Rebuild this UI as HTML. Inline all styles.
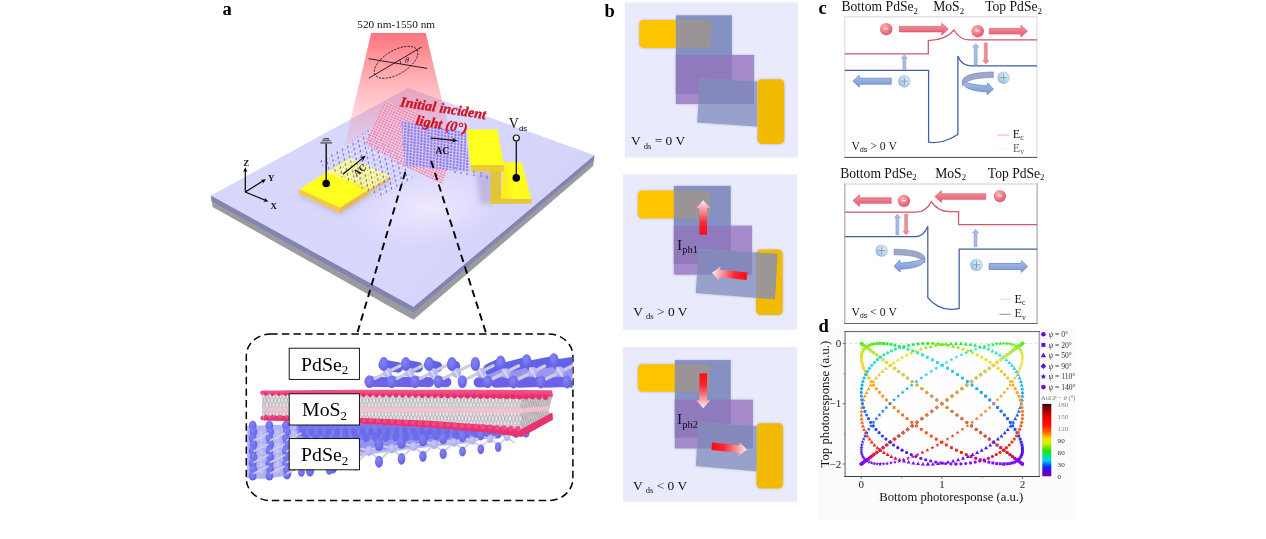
<!DOCTYPE html>
<html><head><meta charset="utf-8"><title>Figure</title>
<style>
html,body{margin:0;padding:0;background:#fff;}
body{width:1266px;height:539px;overflow:hidden;position:relative;font-family:"Liberation Serif",serif;}
text{font-family:"Liberation Serif",serif;}
</style></head>
<body>
<svg width="1266" height="539" viewBox="0 0 1266 539" style="position:absolute;left:0;top:0;display:block;will-change:transform" font-family="Liberation Serif, serif">
<defs>
<linearGradient id="slabg" gradientUnits="userSpaceOnUse" x1="300" y1="120" x2="520" y2="280">
<stop offset="0" stop-color="#d7d7fb"/><stop offset="0.5" stop-color="#d9d7fd"/><stop offset="1" stop-color="#d3d3fb"/></linearGradient>
<radialGradient id="glow" gradientUnits="userSpaceOnUse" cx="0" cy="0" r="1" gradientTransform="translate(428 208) rotate(-8) scale(75 38)">
<stop offset="0" stop-color="#f1e9ff" stop-opacity="0.95"/><stop offset="0.5" stop-color="#ece4ff" stop-opacity="0.6"/><stop offset="1" stop-color="#e8e0ff" stop-opacity="0"/></radialGradient>
<linearGradient id="beam" gradientUnits="userSpaceOnUse" x1="0" y1="33" x2="0" y2="152">
<stop offset="0" stop-color="#ff4452" stop-opacity="0.74"/><stop offset="0.1" stop-color="#ff4452" stop-opacity="0.66"/><stop offset="0.4" stop-color="#ff525e" stop-opacity="0.44"/><stop offset="0.62" stop-color="#ff5e6a" stop-opacity="0.31"/><stop offset="0.85" stop-color="#ff6a78" stop-opacity="0.16"/><stop offset="1" stop-color="#ff8088" stop-opacity="0"/></linearGradient>
<filter id="ablur" x="-20%" y="-20%" width="140%" height="140%"><feGaussianBlur stdDeviation="0.5"/></filter>
<filter id="ablur2" x="-20%" y="-20%" width="140%" height="140%"><feGaussianBlur stdDeviation="2.5"/></filter>
<linearGradient id="yel2" gradientUnits="userSpaceOnUse" x1="500" y1="0" x2="530" y2="0"><stop offset="0" stop-color="#ffe61e"/><stop offset="0.5" stop-color="#ffff1e"/><stop offset="1" stop-color="#fff81e"/></linearGradient>
<pattern id="lat1" width="6" height="5" patternUnits="userSpaceOnUse" patternTransform="matrix(0.88 -0.48 0.2 0.98 320 160)"><rect x="0.5" y="0.5" width="1.3" height="2.8" fill="#6f6fe6"/><rect x="3.6" y="2.6" width="1.1" height="1.6" fill="#a9a9f2"/></pattern>
<pattern id="lat2" width="3" height="2.6" patternUnits="userSpaceOnUse" patternTransform="matrix(0.9 0.42 -0.42 0.9 385 101)"><rect x="0" y="0" width="3" height="2.6" fill="#f6d2e4" fill-opacity="0.6"/><rect x="0.3" y="0.4" width="1.6" height="1.3" fill="#ee5884"/></pattern>
<pattern id="lat3" width="3.4" height="3" patternUnits="userSpaceOnUse" patternTransform="matrix(0.98 0.17 -0.05 1 401 121)"><rect x="0" y="0" width="3.4" height="3" fill="#d4ccf8" fill-opacity="0.78"/><rect x="0.3" y="0.2" width="1.9" height="2.1" fill="#7b70ea"/></pattern>
<clipPath id="rightof"><rect x="296" y="420" width="300" height="80"/></clipPath>
<clipPath id="insc"><rect x="247" y="335" width="325.6" height="165" rx="23" ry="21"/></clipPath>
<pattern id="hatch" width="3.4" height="9" patternUnits="userSpaceOnUse"><rect width="3.4" height="9" fill="#e9e6ea"/><path d="M0,0 L3.4,9 M3.4,0 L0,9" stroke="#a8a4ac" stroke-width="0.75"/></pattern>
<pattern id="hatch2" width="2.2" height="9" patternUnits="userSpaceOnUse" patternTransform="matrix(1 -0.45 0 1 0 0)"><rect width="2.2" height="9" fill="#c9c5c9"/><path d="M0,0 L2.2,9" stroke="#98949c" stroke-width="0.7"/></pattern>
<radialGradient id="se" cx="0.4" cy="0.35" r="0.75"><stop offset="0" stop-color="#8484f6"/><stop offset="1" stop-color="#5e5ee4"/></radialGradient>
<radialGradient id="pd" cx="0.4" cy="0.35" r="0.75"><stop offset="0" stop-color="#cacafc"/><stop offset="1" stop-color="#a6a6f2"/></radialGradient>
<linearGradient id="pinkb" x1="0" y1="0" x2="0" y2="1"><stop offset="0" stop-color="#f4558e"/><stop offset="1" stop-color="#e82f6c"/></linearGradient>
<filter id="soft" x="-10%" y="-10%" width="120%" height="120%"><feGaussianBlur in="SourceAlpha" stdDeviation="1.2" result="sh"/><feFlood flood-color="#50506a" flood-opacity="0.38"/><feComposite in2="sh" operator="in" result="shc"/><feGaussianBlur in="SourceGraphic" stdDeviation="0.5" result="g"/><feMerge><feMergeNode in="shc"/><feMergeNode in="g"/></feMerge></filter>
<filter id="soft2" x="-10%" y="-10%" width="120%" height="120%"><feGaussianBlur stdDeviation="0.4"/></filter>
<clipPath id="bbc0"><polygon points="700,78.2 757.1,81.6 757.1,126.5 697.3,122.4"/></clipPath>
<clipPath id="bbc1"><polygon points="698.6,248.8 777.5,253.9 774.9,299.2 695.9,293.1"/></clipPath>
<linearGradient id="ag10" gradientUnits="userSpaceOnUse" x1="703.2" y1="234.5" x2="703.2" y2="200.2"><stop offset="0" stop-color="#ff0a10"/><stop offset="0.35" stop-color="#fb2a34"/><stop offset="0.8" stop-color="#f8b0b8"/><stop offset="1" stop-color="#fdeef0"/></linearGradient>
<linearGradient id="ag11" gradientUnits="userSpaceOnUse" x1="747" y1="276.3" x2="711.8" y2="272.7"><stop offset="0" stop-color="#ff0a10"/><stop offset="0.35" stop-color="#fb2a34"/><stop offset="0.8" stop-color="#f8b0b8"/><stop offset="1" stop-color="#fdeef0"/></linearGradient>
<clipPath id="bbc2"><polygon points="698.6,422.2 756.7,426.3 756.7,471.2 695.9,466.1"/></clipPath>
<linearGradient id="ag20" gradientUnits="userSpaceOnUse" x1="703.2" y1="373.5" x2="703.2" y2="408.2"><stop offset="0" stop-color="#ff0a10"/><stop offset="0.35" stop-color="#fb2a34"/><stop offset="0.8" stop-color="#f8b0b8"/><stop offset="1" stop-color="#fdeef0"/></linearGradient>
<linearGradient id="ag21" gradientUnits="userSpaceOnUse" x1="711.8" y1="446.3" x2="747" y2="449.8"><stop offset="0" stop-color="#ff0a10"/><stop offset="0.35" stop-color="#fb2a34"/><stop offset="0.8" stop-color="#f8b0b8"/><stop offset="1" stop-color="#fdeef0"/></linearGradient>
<radialGradient id="eball" cx="0.38" cy="0.32" r="0.75"><stop offset="0" stop-color="#f9b2b4"/><stop offset="0.5" stop-color="#ef7f88"/><stop offset="1" stop-color="#d9506a"/></radialGradient>
<radialGradient id="hball" cx="0.6" cy="0.4" r="0.75"><stop offset="0" stop-color="#e2f2fb"/><stop offset="0.55" stop-color="#b4d4ee"/><stop offset="1" stop-color="#7e9ccc"/></radialGradient>
<linearGradient id="rarr" x1="0" y1="0" x2="0" y2="1"><stop offset="0" stop-color="#f4a0a6"/><stop offset="0.5" stop-color="#ec7684"/><stop offset="1" stop-color="#e25a70"/></linearGradient>
<linearGradient id="barr" x1="0" y1="0" x2="0" y2="1"><stop offset="0" stop-color="#b4c4ea"/><stop offset="0.5" stop-color="#92aade"/><stop offset="1" stop-color="#7e98d6"/></linearGradient>
<filter id="cblur" x="-20%" y="-20%" width="140%" height="140%"><feGaussianBlur stdDeviation="0.35"/></filter>
<filter id="dblur" x="-5%" y="-5%" width="110%" height="110%"><feGaussianBlur stdDeviation="0.45"/></filter>
<linearGradient id="cbar" x1="0" y1="0" x2="0" y2="1"><stop offset="0" stop-color="#3a0000"/><stop offset="0.06" stop-color="#800000"/><stop offset="0.17" stop-color="#e00000"/><stop offset="0.3" stop-color="#ff1000"/><stop offset="0.4" stop-color="#ff7000"/><stop offset="0.48" stop-color="#ffd800"/><stop offset="0.54" stop-color="#d8f000"/><stop offset="0.64" stop-color="#30e000"/><stop offset="0.72" stop-color="#00e090"/><stop offset="0.78" stop-color="#00d0f0"/><stop offset="0.86" stop-color="#0040f0"/><stop offset="0.93" stop-color="#5000e0"/><stop offset="1" stop-color="#800090"/></linearGradient>
</defs>
<g id="pa">
<polygon points="211.0,195.6 413.5,306.8 594.4,155.3 593.2,166.1 413.5,319.8 212.6,207.1" fill="#9b9b9f"/>
<polygon points="211.0,195.6 413.5,306.8 594.4,155.3 594.0,160.3 413.5,312.6 211.6,201.2" fill="#8484b2"/>
<polygon points="211.0,195.6 408.0,88.0 594.4,155.3 413.5,306.8" fill="url(#slabg)"/>
<polygon points="211.0,195.6 408.0,88.0 594.4,155.3 413.5,306.8" fill="url(#glow)"/>
<polygon points="371.2,33.1 425.7,33.1 454.6,152 343,152" fill="url(#beam)"/>
<polygon points="298.5,191.2 340.0,207.5 392.0,176.0 392.0,182.0 340.0,215.5 298.5,196.2" fill="#b0a0c0" fill-opacity="0.5" filter="url(#ablur2)"/>
<polygon points="299.5,189.2 340.0,207.5 340.0,212.9 299.5,193.8" fill="#f0c93e"/>
<polygon points="340.0,207.5 390.0,176.0 390.0,180.0 340.0,212.9" fill="#e9b94e"/>
<polygon points="299.5,189.2 349.5,157.7 390.0,176.0 340.0,207.5" fill="#ffff1e"/>
<polygon points="476,172 492,170 494,204 480,204" fill="#a898c8" fill-opacity="0.5" filter="url(#ablur2)"/>
<polygon points="490.4,170 501,170 501,203.7 490.4,203.7" fill="#e3c23c"/>
<polygon points="490.4,198.6 531.4,198.6 531.4,203.7 490.4,203.7" fill="#e6c63a"/>
<polygon points="503.5,162.2 521.5,162.2 531.4,198.8 501,198.8" fill="url(#yel2)"/>
<polygon points="470.5,164.7 503.9,164.7 503.9,171.6 471.6,171.6" fill="#e9cb36"/>
<polygon points="466.8,129.5 497.4,129.5 503.9,164.9 470.5,164.9" fill="#ffff1e"/>
<g filter="url(#ablur)"><polygon points="316.7,162.4 371.3,127.9 395.0,150.0 413.0,178.0 380.0,199.0" fill="#ffffff" fill-opacity="0.16"/><polygon points="326.0,173.0 349.5,157.7 390.0,176.0 372.0,187.5" fill="#fffff0" fill-opacity="0.45"/><polygon points="316.7,162.4 371.3,127.9 395.0,150.0 413.0,178.0 380.0,199.0" fill="url(#lat1)"/></g>
<g filter="url(#ablur)"><polygon points="385.5,100.5 418.0,112.0 452.0,140.0 448.0,168.0 442.5,184.0 403.0,166.0 364.6,143.5" fill="url(#lat2)"/></g>
<g filter="url(#ablur)"><polygon points="401.3,121.0 466.0,131.5 469.5,172.0 404.7,165.7" fill="url(#lat3)"/></g>
<g fill="#8a84ee" filter="url(#ablur)"><circle cx="455" cy="172" r="1"/><circle cx="461" cy="173" r="1"/><circle cx="467" cy="174" r="1"/><circle cx="474" cy="175" r="1"/><circle cx="481" cy="176" r="1"/><circle cx="487" cy="176.5" r="1"/><circle cx="474" cy="172" r="1"/><circle cx="481" cy="173" r="1"/><circle cx="487" cy="178" r="1"/><circle cx="455" cy="168" r="1"/></g>
<line x1="326.2" y1="143" x2="326.2" y2="183" stroke="#1a1a1a" stroke-width="1.5"/>
<circle cx="326.2" cy="183.5" r="3.8" fill="#000"/>
<rect x="320.3" y="141.8" width="11.8" height="2" fill="#77777f"/><rect x="322" y="139.6" width="8.4" height="1.6" fill="#6a6a72"/><rect x="323.4" y="138" width="5.6" height="1.2" fill="#55555c"/>
<line x1="516.3" y1="141" x2="516.3" y2="178" stroke="#111" stroke-width="1.3"/>
<circle cx="516.3" cy="138" r="3" fill="#f4f4ff" stroke="#111" stroke-width="1.2"/>
<circle cx="516.3" cy="177.9" r="3.8" fill="#000"/>
<text x="508.8" y="128.4" font-size="14" fill="#111">V<tspan font-size="8" dy="2.8" font-family="Liberation Sans, sans-serif">ds</tspan></text>
<line x1="342.9" y1="174.2" x2="362.7" y2="158.1" stroke="#000" stroke-width="1.2"/><polygon points="365.7,155.7 362.9,161.0 362.7,158.1 359.9,157.3" fill="#000"/>
<text x="0" y="0" font-size="9.6" font-weight="bold" fill="#111" transform="translate(356.5,177) rotate(-40)">AC</text>
<line x1="430.6" y1="138.0" x2="453.7" y2="140.4" stroke="#000" stroke-width="1.2"/><polygon points="457.5,140.8 451.8,142.6 453.7,140.4 452.3,137.8" fill="#000"/>
<text x="435.2" y="153.8" font-size="9.8" font-weight="bold" fill="#111">AC</text>
<line x1="245.3" y1="192.0" x2="245.3" y2="170.8" stroke="#000" stroke-width="1.2"/><polygon points="245.3,167.3 247.5,172.3 245.3,170.8 243.1,172.3" fill="#000"/>
<line x1="245.3" y1="192.0" x2="262.9" y2="181.0" stroke="#000" stroke-width="1.2"/><polygon points="265.9,179.2 262.8,183.7 262.9,181.0 260.5,180.0" fill="#000"/>
<line x1="245.3" y1="192.0" x2="265.3" y2="200.3" stroke="#000" stroke-width="1.2"/><polygon points="268.5,201.6 263.0,201.7 265.3,200.3 264.7,197.7" fill="#000"/>
<text x="243.3" y="165.9" font-size="9" font-weight="bold" fill="#111">Z</text>
<text x="268" y="181.2" font-size="8.8" font-weight="bold" fill="#111">Y</text>
<text x="270.6" y="208.6" font-size="8.8" font-weight="bold" fill="#111">X</text>
<text x="357.3" y="27.5" font-size="11.3" fill="#111">520 nm-1550 nm</text>
<ellipse cx="396.1" cy="62.3" rx="24.3" ry="11.8" transform="rotate(-30.6 396.1 62.3)" fill="none" stroke="#1a1014" stroke-width="0.8" stroke-dasharray="2.2 1.2"/>
<line x1="368.6" y1="58.7" x2="427.3" y2="68.4" stroke="#1a1014" stroke-width="0.9"/>
<line x1="368.8" y1="78.2" x2="421.6" y2="47" stroke="#1a1014" stroke-width="0.9"/>
<text x="405" y="63.4" font-size="8" font-style="italic" fill="#1a1014">θ</text>
<path d="M400.6,64 a5,5 0 0 0 -1.2,-4.2" fill="none" stroke="#1a1014" stroke-width="0.7"/>
<text font-size="14.1" font-weight="bold" font-style="italic" fill="#d40f1b" stroke="#d40f1b" stroke-width="0.3" transform="translate(399.8,106.2) rotate(8.7)">Initial incident</text>
<text font-size="14.1" font-weight="bold" font-style="italic" fill="#d40f1b" stroke="#d40f1b" stroke-width="0.3" transform="translate(415.2,124.6) rotate(9.4)">light (0°)</text>
<line x1="405.3" y1="172" x2="357.6" y2="332" stroke="#000" stroke-width="1.9" stroke-dasharray="7.5 4.8"/>
<line x1="431.2" y1="161" x2="486" y2="333" stroke="#000" stroke-width="1.9" stroke-dasharray="7.5 4.8"/>
<rect x="246.3" y="334.1" width="326.6" height="166.4" rx="24" ry="22" fill="none" stroke="#000" stroke-width="1.5" stroke-dasharray="7.4 4.2"/>
<g clip-path="url(#insc)" filter="url(#ablur)"><polygon points="296,424 535,424 531,432 500,436 460,440 420,446 379,450 360,452 310,468 296,470" fill="#7c7cee"/>
<polygon points="247,440 300,436 360,440 420,440 470,436 500,434 470,443 420,448 379,453 340,460 300,468 247,476" fill="#9c9cf2" fill-opacity="0.7" clip-path="url(#rightof)"/>
<ellipse cx="300.0" cy="427.9" rx="2.4" ry="3.2" fill="#7474ec"/>
<ellipse cx="306.5" cy="427.9" rx="2.4" ry="3.2" fill="#7474ec"/>
<ellipse cx="313.0" cy="427.8" rx="2.4" ry="3.2" fill="#7474ec"/>
<ellipse cx="319.5" cy="427.8" rx="2.4" ry="3.2" fill="#7474ec"/>
<ellipse cx="326.0" cy="427.8" rx="2.4" ry="3.2" fill="#7474ec"/>
<ellipse cx="332.5" cy="427.8" rx="2.4" ry="3.2" fill="#7474ec"/>
<ellipse cx="339.0" cy="427.7" rx="2.4" ry="3.2" fill="#7474ec"/>
<ellipse cx="345.5" cy="427.7" rx="2.4" ry="3.2" fill="#7474ec"/>
<ellipse cx="352.0" cy="427.7" rx="2.4" ry="3.2" fill="#7474ec"/>
<ellipse cx="358.5" cy="427.7" rx="2.4" ry="3.2" fill="#7474ec"/>
<ellipse cx="365.0" cy="427.6" rx="2.4" ry="3.2" fill="#7474ec"/>
<ellipse cx="371.5" cy="427.6" rx="2.4" ry="3.2" fill="#7474ec"/>
<ellipse cx="378.0" cy="427.6" rx="2.4" ry="3.2" fill="#7474ec"/>
<ellipse cx="384.5" cy="427.6" rx="2.4" ry="3.2" fill="#7474ec"/>
<ellipse cx="391.0" cy="427.5" rx="2.4" ry="3.2" fill="#7474ec"/>
<ellipse cx="397.5" cy="427.5" rx="2.4" ry="3.2" fill="#7474ec"/>
<ellipse cx="404.0" cy="427.5" rx="2.4" ry="3.2" fill="#7474ec"/>
<ellipse cx="410.5" cy="427.5" rx="2.4" ry="3.2" fill="#7474ec"/>
<ellipse cx="417.0" cy="427.4" rx="2.4" ry="3.2" fill="#7474ec"/>
<ellipse cx="423.5" cy="427.4" rx="2.4" ry="3.2" fill="#7474ec"/>
<ellipse cx="430.0" cy="427.4" rx="2.4" ry="3.2" fill="#7474ec"/>
<ellipse cx="436.5" cy="427.4" rx="2.4" ry="3.2" fill="#7474ec"/>
<ellipse cx="443.0" cy="427.3" rx="2.4" ry="3.2" fill="#7474ec"/>
<ellipse cx="449.5" cy="427.3" rx="2.4" ry="3.2" fill="#7474ec"/>
<ellipse cx="456.0" cy="427.3" rx="2.4" ry="3.2" fill="#7474ec"/>
<ellipse cx="462.5" cy="427.2" rx="2.4" ry="3.2" fill="#7474ec"/>
<ellipse cx="469.0" cy="427.2" rx="2.4" ry="3.2" fill="#7474ec"/>
<ellipse cx="475.5" cy="427.2" rx="2.4" ry="3.2" fill="#7474ec"/>
<ellipse cx="482.0" cy="427.2" rx="2.4" ry="3.2" fill="#7474ec"/>
<ellipse cx="488.5" cy="427.1" rx="2.4" ry="3.2" fill="#7474ec"/>
<ellipse cx="495.0" cy="427.1" rx="2.4" ry="3.2" fill="#7474ec"/>
<ellipse cx="501.5" cy="427.1" rx="2.4" ry="3.2" fill="#7474ec"/>
<ellipse cx="508.0" cy="427.1" rx="2.4" ry="3.2" fill="#7474ec"/>
<ellipse cx="514.5" cy="427.0" rx="2.4" ry="3.2" fill="#7474ec"/>
<ellipse cx="521.0" cy="427.0" rx="2.4" ry="3.2" fill="#7474ec"/>
<ellipse cx="527.5" cy="427.0" rx="2.4" ry="3.2" fill="#7474ec"/>
<ellipse cx="534.0" cy="427.0" rx="2.4" ry="3.2" fill="#7474ec"/>
<ellipse cx="303.0" cy="432.3" rx="2.7" ry="3.7" fill="#6a6ae8"/>
<ellipse cx="311.5" cy="432.2" rx="2.7" ry="3.7" fill="#6a6ae8"/>
<ellipse cx="320.0" cy="432.1" rx="2.7" ry="3.7" fill="#6a6ae8"/>
<ellipse cx="328.5" cy="432.1" rx="2.7" ry="3.7" fill="#6a6ae8"/>
<ellipse cx="337.0" cy="432.0" rx="2.7" ry="3.7" fill="#6a6ae8"/>
<ellipse cx="345.5" cy="431.9" rx="2.7" ry="3.7" fill="#6a6ae8"/>
<ellipse cx="354.0" cy="431.9" rx="2.7" ry="3.7" fill="#6a6ae8"/>
<ellipse cx="362.5" cy="431.8" rx="2.7" ry="3.7" fill="#6a6ae8"/>
<ellipse cx="371.0" cy="431.7" rx="2.7" ry="3.7" fill="#6a6ae8"/>
<ellipse cx="379.5" cy="431.7" rx="2.7" ry="3.7" fill="#6a6ae8"/>
<ellipse cx="388.0" cy="431.6" rx="2.7" ry="3.7" fill="#6a6ae8"/>
<ellipse cx="396.5" cy="431.5" rx="2.7" ry="3.7" fill="#6a6ae8"/>
<ellipse cx="405.0" cy="431.5" rx="2.7" ry="3.7" fill="#6a6ae8"/>
<ellipse cx="413.5" cy="431.4" rx="2.7" ry="3.7" fill="#6a6ae8"/>
<ellipse cx="422.0" cy="431.3" rx="2.7" ry="3.7" fill="#6a6ae8"/>
<ellipse cx="430.5" cy="431.3" rx="2.7" ry="3.7" fill="#6a6ae8"/>
<ellipse cx="439.0" cy="431.2" rx="2.7" ry="3.7" fill="#6a6ae8"/>
<ellipse cx="447.5" cy="431.1" rx="2.7" ry="3.7" fill="#6a6ae8"/>
<ellipse cx="456.0" cy="431.1" rx="2.7" ry="3.7" fill="#6a6ae8"/>
<ellipse cx="464.5" cy="431.0" rx="2.7" ry="3.7" fill="#6a6ae8"/>
<ellipse cx="473.0" cy="430.9" rx="2.7" ry="3.7" fill="#6a6ae8"/>
<ellipse cx="481.5" cy="430.8" rx="2.7" ry="3.7" fill="#6a6ae8"/>
<ellipse cx="490.0" cy="430.8" rx="2.7" ry="3.7" fill="#6a6ae8"/>
<ellipse cx="498.5" cy="430.7" rx="2.7" ry="3.7" fill="#6a6ae8"/>
<ellipse cx="507.0" cy="430.6" rx="2.7" ry="3.7" fill="#6a6ae8"/>
<ellipse cx="515.5" cy="430.6" rx="2.7" ry="3.7" fill="#6a6ae8"/>
<ellipse cx="524.0" cy="430.5" rx="2.7" ry="3.7" fill="#6a6ae8"/>
<ellipse cx="306.0" cy="439.3" rx="3.6" ry="5.0" fill="#6c6ce8"/>
<ellipse cx="316.0" cy="439.0" rx="3.6" ry="5.0" fill="#6c6ce8"/>
<ellipse cx="326.0" cy="438.7" rx="3.6" ry="5.0" fill="#6c6ce8"/>
<ellipse cx="336.0" cy="438.4" rx="3.6" ry="5.0" fill="#6c6ce8"/>
<ellipse cx="346.0" cy="438.1" rx="3.6" ry="5.0" fill="#6c6ce8"/>
<ellipse cx="356.0" cy="437.8" rx="3.6" ry="5.0" fill="#6c6ce8"/>
<ellipse cx="366.0" cy="437.5" rx="3.6" ry="5.0" fill="#6c6ce8"/>
<ellipse cx="376.0" cy="437.2" rx="3.6" ry="5.0" fill="#6c6ce8"/>
<ellipse cx="386.0" cy="436.9" rx="3.6" ry="5.0" fill="#6c6ce8"/>
<ellipse cx="396.0" cy="436.6" rx="3.6" ry="5.0" fill="#6c6ce8"/>
<ellipse cx="406.0" cy="436.3" rx="3.6" ry="5.0" fill="#6c6ce8"/>
<ellipse cx="416.0" cy="436.0" rx="3.6" ry="5.0" fill="#6c6ce8"/>
<ellipse cx="426.0" cy="435.7" rx="3.6" ry="5.0" fill="#6c6ce8"/>
<ellipse cx="436.0" cy="435.4" rx="3.6" ry="5.0" fill="#6c6ce8"/>
<ellipse cx="446.0" cy="435.1" rx="3.6" ry="5.0" fill="#6c6ce8"/>
<ellipse cx="456.0" cy="434.8" rx="3.6" ry="5.0" fill="#6c6ce8"/>
<ellipse cx="466.0" cy="434.5" rx="3.6" ry="5.0" fill="#6c6ce8"/>
<ellipse cx="476.0" cy="434.2" rx="3.6" ry="5.0" fill="#6c6ce8"/>
<ellipse cx="486.0" cy="433.9" rx="3.6" ry="5.0" fill="#6c6ce8"/>
<ellipse cx="496.0" cy="433.6" rx="3.6" ry="5.0" fill="#6c6ce8"/>
<ellipse cx="506.0" cy="433.3" rx="3.6" ry="5.0" fill="#6c6ce8"/>
<ellipse cx="516.0" cy="433.0" rx="3.6" ry="5.0" fill="#6c6ce8"/>
<ellipse cx="526.0" cy="432.7" rx="3.6" ry="5.0" fill="#6c6ce8"/>
<path d="M276.1,460.3 L287.0,455.1 M276.1,460.3 L287.0,470.9 M276.1,460.3 L263.0,473.4 M276.1,460.3 L264.1,456.1" stroke="#d2d0e0" stroke-width="2.3" fill="none"/>
<path d="M299.3,458.0 L310.0,453.0 M299.3,458.0 L310.0,468.1 M299.3,458.0 L286.5,470.6 M299.3,458.0 L287.6,454.0" stroke="#d2d0e0" stroke-width="2.2" fill="none"/>
<path d="M322.5,455.6 L333.0,450.8 M322.5,455.6 L333.0,465.3 M322.5,455.6 L310.0,467.8 M322.5,455.6 L311.0,451.8" stroke="#d2d0e0" stroke-width="2.2" fill="none"/>
<path d="M345.8,453.3 L356.0,448.7 M345.8,453.3 L356.0,462.5 M345.8,453.3 L333.5,465.0 M345.8,453.3 L334.5,449.7" stroke="#d2d0e0" stroke-width="2.1" fill="none"/>
<path d="M369.0,451.0 L379.0,446.5 M369.0,451.0 L379.0,459.7 M369.0,451.0 L357.0,462.2 M369.0,451.0 L358.0,447.5" stroke="#d2d0e0" stroke-width="2.1" fill="none"/>
<path d="M391.9,448.7 L401.5,444.4 M391.9,448.7 L401.5,456.9 M391.9,448.7 L380.3,459.4 M391.9,448.7 L381.3,445.4" stroke="#d2d0e0" stroke-width="2.0" fill="none"/>
<path d="M413.6,446.5 L422.9,442.4 M413.6,446.5 L422.9,454.3 M413.6,446.5 L402.5,456.8 M413.6,446.5 L403.4,443.4" stroke="#d2d0e0" stroke-width="1.9" fill="none"/>
<path d="M434.3,444.5 L443.2,440.5 M434.3,444.5 L443.2,451.8 M434.3,444.5 L423.6,454.3 M434.3,444.5 L424.5,441.5" stroke="#d2d0e0" stroke-width="1.9" fill="none"/>
<path d="M453.9,442.5 L462.5,438.7 M453.9,442.5 L462.5,449.5 M453.9,442.5 L443.6,452.0 M453.9,442.5 L444.5,439.7" stroke="#d2d0e0" stroke-width="1.8" fill="none"/>
<path d="M472.5,440.6 L480.8,436.9 M472.5,440.6 L480.8,447.2 M472.5,440.6 L462.6,449.7 M472.5,440.6 L463.4,437.9" stroke="#d2d0e0" stroke-width="1.7" fill="none"/>
<path d="M490.2,438.9 L498.2,435.3 M490.2,438.9 L498.2,445.1 M490.2,438.9 L480.7,447.6 M490.2,438.9 L481.5,436.3" stroke="#d2d0e0" stroke-width="1.7" fill="none"/>
<path d="M507.1,437.2 L514.7,433.7 M507.1,437.2 L514.7,443.1 M507.1,437.2 L497.8,445.6 M507.1,437.2 L498.6,434.7" stroke="#d2d0e0" stroke-width="1.6" fill="none"/>
<ellipse cx="287.0" cy="453.1" rx="4.9" ry="7.3" fill="url(#se)"/>
<ellipse cx="310.0" cy="451.0" rx="4.8" ry="7.2" fill="url(#se)"/>
<ellipse cx="333.0" cy="448.8" rx="4.7" ry="7.0" fill="url(#se)"/>
<ellipse cx="356.0" cy="446.7" rx="4.6" ry="6.9" fill="url(#se)"/>
<ellipse cx="379.0" cy="444.5" rx="4.5" ry="6.7" fill="url(#se)"/>
<ellipse cx="401.5" cy="442.4" rx="4.3" ry="6.4" fill="url(#se)"/>
<ellipse cx="422.9" cy="440.4" rx="4.2" ry="6.2" fill="url(#se)"/>
<ellipse cx="443.2" cy="438.5" rx="4.0" ry="6.0" fill="url(#se)"/>
<ellipse cx="462.5" cy="436.7" rx="3.9" ry="5.7" fill="url(#se)"/>
<ellipse cx="480.8" cy="434.9" rx="3.7" ry="5.5" fill="url(#se)"/>
<ellipse cx="498.2" cy="433.3" rx="3.6" ry="5.3" fill="url(#se)"/>
<ellipse cx="514.7" cy="431.7" rx="3.5" ry="5.2" fill="url(#se)"/>
<ellipse cx="276.1" cy="460.3" rx="4.3" ry="5.5" fill="url(#pd)"/>
<ellipse cx="299.3" cy="458.0" rx="4.2" ry="5.3" fill="url(#pd)"/>
<ellipse cx="322.5" cy="455.6" rx="4.1" ry="5.2" fill="url(#pd)"/>
<ellipse cx="345.8" cy="453.3" rx="4.0" ry="5.1" fill="url(#pd)"/>
<ellipse cx="369.0" cy="451.0" rx="3.9" ry="5.0" fill="url(#pd)"/>
<ellipse cx="391.9" cy="448.7" rx="3.8" ry="4.8" fill="url(#pd)"/>
<ellipse cx="413.6" cy="446.5" rx="3.6" ry="4.6" fill="url(#pd)"/>
<ellipse cx="434.3" cy="444.5" rx="3.5" ry="4.5" fill="url(#pd)"/>
<ellipse cx="453.9" cy="442.5" rx="3.3" ry="4.3" fill="url(#pd)"/>
<ellipse cx="472.5" cy="440.6" rx="3.2" ry="4.1" fill="url(#pd)"/>
<ellipse cx="490.2" cy="438.9" rx="3.1" ry="4.0" fill="url(#pd)"/>
<ellipse cx="507.1" cy="437.2" rx="3.0" ry="3.8" fill="url(#pd)"/>
<ellipse cx="287.0" cy="472.9" rx="4.4" ry="6.6" fill="url(#se)"/>
<ellipse cx="310.0" cy="470.1" rx="4.3" ry="6.4" fill="url(#se)"/>
<ellipse cx="333.0" cy="467.3" rx="4.2" ry="6.3" fill="url(#se)"/>
<ellipse cx="356.0" cy="464.5" rx="4.1" ry="6.1" fill="url(#se)"/>
<ellipse cx="379.0" cy="461.7" rx="4.0" ry="6.0" fill="url(#se)"/>
<ellipse cx="401.5" cy="458.9" rx="3.8" ry="5.8" fill="url(#se)"/>
<ellipse cx="422.9" cy="456.3" rx="3.7" ry="5.6" fill="url(#se)"/>
<ellipse cx="443.2" cy="453.8" rx="3.6" ry="5.3" fill="url(#se)"/>
<ellipse cx="462.5" cy="451.5" rx="3.4" ry="5.1" fill="url(#se)"/>
<ellipse cx="480.8" cy="449.2" rx="3.3" ry="5.0" fill="url(#se)"/>
<ellipse cx="498.2" cy="447.1" rx="3.2" ry="4.8" fill="url(#se)"/>
<polygon points="247,426 298,424 298,468 286,476 262,479 247,478" fill="#a2a2f2" fill-opacity="0.8"/>
<ellipse cx="246.0" cy="433.0" rx="3.2" ry="4.0" fill="url(#pd)"/>
<ellipse cx="246.0" cy="439.4" rx="3.2" ry="4.0" fill="url(#pd)"/>
<ellipse cx="246.0" cy="445.8" rx="3.2" ry="4.0" fill="url(#pd)"/>
<ellipse cx="246.0" cy="452.2" rx="3.2" ry="4.0" fill="url(#pd)"/>
<ellipse cx="246.0" cy="458.6" rx="3.2" ry="4.0" fill="url(#pd)"/>
<ellipse cx="246.0" cy="465.0" rx="3.2" ry="4.0" fill="url(#pd)"/>
<ellipse cx="246.0" cy="471.4" rx="3.2" ry="4.0" fill="url(#pd)"/>
<ellipse cx="261.5" cy="434.0" rx="3.2" ry="4.0" fill="url(#pd)"/>
<ellipse cx="261.5" cy="440.4" rx="3.2" ry="4.0" fill="url(#pd)"/>
<ellipse cx="261.5" cy="446.8" rx="3.2" ry="4.0" fill="url(#pd)"/>
<ellipse cx="261.5" cy="453.2" rx="3.2" ry="4.0" fill="url(#pd)"/>
<ellipse cx="261.5" cy="459.6" rx="3.2" ry="4.0" fill="url(#pd)"/>
<ellipse cx="261.5" cy="466.0" rx="3.2" ry="4.0" fill="url(#pd)"/>
<ellipse cx="261.5" cy="472.4" rx="3.2" ry="4.0" fill="url(#pd)"/>
<ellipse cx="278.0" cy="433.0" rx="3.2" ry="4.0" fill="url(#pd)"/>
<ellipse cx="278.0" cy="439.4" rx="3.2" ry="4.0" fill="url(#pd)"/>
<ellipse cx="278.0" cy="445.8" rx="3.2" ry="4.0" fill="url(#pd)"/>
<ellipse cx="278.0" cy="452.2" rx="3.2" ry="4.0" fill="url(#pd)"/>
<ellipse cx="278.0" cy="458.6" rx="3.2" ry="4.0" fill="url(#pd)"/>
<ellipse cx="278.0" cy="465.0" rx="3.2" ry="4.0" fill="url(#pd)"/>
<ellipse cx="278.0" cy="471.4" rx="3.2" ry="4.0" fill="url(#pd)"/>
<ellipse cx="294.0" cy="434.0" rx="3.2" ry="4.0" fill="url(#pd)"/>
<ellipse cx="294.0" cy="440.4" rx="3.2" ry="4.0" fill="url(#pd)"/>
<ellipse cx="294.0" cy="446.8" rx="3.2" ry="4.0" fill="url(#pd)"/>
<ellipse cx="294.0" cy="453.2" rx="3.2" ry="4.0" fill="url(#pd)"/>
<ellipse cx="294.0" cy="459.6" rx="3.2" ry="4.0" fill="url(#pd)"/>
<ellipse cx="252.7" cy="425.5" rx="3.9" ry="4.7" fill="url(#se)"/>
<ellipse cx="253.5" cy="431.8" rx="3.9" ry="4.7" fill="url(#se)"/>
<ellipse cx="252.7" cy="438.1" rx="3.9" ry="4.7" fill="url(#se)"/>
<ellipse cx="253.5" cy="444.4" rx="3.9" ry="4.7" fill="url(#se)"/>
<ellipse cx="252.7" cy="450.7" rx="3.9" ry="4.7" fill="url(#se)"/>
<ellipse cx="253.5" cy="457.0" rx="3.9" ry="4.7" fill="url(#se)"/>
<ellipse cx="252.7" cy="463.3" rx="3.9" ry="4.7" fill="url(#se)"/>
<ellipse cx="253.5" cy="469.6" rx="3.9" ry="4.7" fill="url(#se)"/>
<ellipse cx="252.7" cy="475.9" rx="3.9" ry="4.7" fill="url(#se)"/>
<ellipse cx="269.4" cy="425.5" rx="3.9" ry="4.7" fill="url(#se)"/>
<ellipse cx="270.2" cy="431.8" rx="3.9" ry="4.7" fill="url(#se)"/>
<ellipse cx="269.4" cy="438.1" rx="3.9" ry="4.7" fill="url(#se)"/>
<ellipse cx="270.2" cy="444.4" rx="3.9" ry="4.7" fill="url(#se)"/>
<ellipse cx="269.4" cy="450.7" rx="3.9" ry="4.7" fill="url(#se)"/>
<ellipse cx="270.2" cy="457.0" rx="3.9" ry="4.7" fill="url(#se)"/>
<ellipse cx="269.4" cy="463.3" rx="3.9" ry="4.7" fill="url(#se)"/>
<ellipse cx="270.2" cy="469.6" rx="3.9" ry="4.7" fill="url(#se)"/>
<ellipse cx="269.4" cy="475.9" rx="3.9" ry="4.7" fill="url(#se)"/>
<ellipse cx="286.0" cy="425.5" rx="3.9" ry="4.7" fill="url(#se)"/>
<ellipse cx="286.8" cy="431.8" rx="3.9" ry="4.7" fill="url(#se)"/>
<ellipse cx="286.0" cy="438.1" rx="3.9" ry="4.7" fill="url(#se)"/>
<ellipse cx="286.8" cy="444.4" rx="3.9" ry="4.7" fill="url(#se)"/>
<ellipse cx="286.0" cy="450.7" rx="3.9" ry="4.7" fill="url(#se)"/>
<ellipse cx="286.8" cy="457.0" rx="3.9" ry="4.7" fill="url(#se)"/>
<ellipse cx="286.0" cy="463.3" rx="3.9" ry="4.7" fill="url(#se)"/>
<ellipse cx="286.8" cy="469.6" rx="3.9" ry="4.7" fill="url(#se)"/>
<path d="M253.5,440.5 L268.5,433" stroke="#d2d0e0" stroke-width="1.7" fill="none"/>
<path d="M253.5,451.5 L268.5,444" stroke="#d2d0e0" stroke-width="1.7" fill="none"/>
<path d="M253.5,462.5 L268.5,455" stroke="#d2d0e0" stroke-width="1.7" fill="none"/>
<path d="M253.5,473.5 L268.5,466" stroke="#d2d0e0" stroke-width="1.7" fill="none"/>
<path d="M270,440.5 L285,433" stroke="#d2d0e0" stroke-width="1.7" fill="none"/>
<path d="M270,451.5 L285,444" stroke="#d2d0e0" stroke-width="1.7" fill="none"/>
<path d="M270,462.5 L285,455" stroke="#d2d0e0" stroke-width="1.7" fill="none"/>
<path d="M270,473.5 L285,466" stroke="#d2d0e0" stroke-width="1.7" fill="none"/>
<path d="M286.5,440.5 L301.5,433" stroke="#d2d0e0" stroke-width="1.7" fill="none"/>
<path d="M286.5,451.5 L301.5,444" stroke="#d2d0e0" stroke-width="1.7" fill="none"/>
<path d="M286.5,462.5 L301.5,455" stroke="#d2d0e0" stroke-width="1.7" fill="none"/>
<path d="M286.5,473.5 L301.5,466" stroke="#d2d0e0" stroke-width="1.7" fill="none"/>
<ellipse cx="301.4" cy="472.0" rx="3.4" ry="4.8" fill="url(#se)"/>
<ellipse cx="329.3" cy="470.0" rx="3.4" ry="4.8" fill="url(#se)"/>
<ellipse cx="294.0" cy="466.0" rx="3.4" ry="4.8" fill="url(#se)"/>
<polygon points="262,394 553,394 548,413 553,416 522,432 262,418" fill="url(#hatch)"/>
<polygon points="521,397 553,394 548,411 552,415 521,431" fill="url(#hatch2)"/>
<polygon points="262,407.6 521,408.4 548,406 548,410.6 521,413 262,411" fill="#f9bfcb" fill-opacity="0.9"/>
<path d="M264,390.6 C330,389.8 450,389.4 552,390.2 L553,396.4 L521,398.6 L400,395.6 L262,394.4 Z" fill="url(#pinkb)"/>
<circle cx="266.0" cy="394.2" r="1.6" fill="#e62e6c"/>
<circle cx="272.5" cy="394.3" r="1.6" fill="#e62e6c"/>
<circle cx="279.0" cy="394.4" r="1.7" fill="#e62e6c"/>
<circle cx="285.5" cy="394.4" r="1.7" fill="#e62e6c"/>
<circle cx="292.0" cy="394.5" r="1.7" fill="#e62e6c"/>
<circle cx="298.5" cy="394.6" r="1.7" fill="#e62e6c"/>
<circle cx="305.0" cy="394.7" r="1.8" fill="#e62e6c"/>
<circle cx="311.5" cy="394.7" r="1.8" fill="#e62e6c"/>
<circle cx="318.0" cy="394.8" r="1.8" fill="#e62e6c"/>
<circle cx="324.5" cy="394.9" r="1.8" fill="#e62e6c"/>
<circle cx="331.0" cy="394.9" r="1.8" fill="#e62e6c"/>
<circle cx="337.5" cy="395.0" r="1.9" fill="#e62e6c"/>
<circle cx="344.0" cy="395.1" r="1.9" fill="#e62e6c"/>
<circle cx="350.5" cy="395.1" r="1.9" fill="#e62e6c"/>
<circle cx="357.0" cy="395.2" r="1.9" fill="#e62e6c"/>
<circle cx="363.5" cy="395.3" r="2.0" fill="#e62e6c"/>
<circle cx="370.0" cy="395.3" r="2.0" fill="#e62e6c"/>
<circle cx="376.5" cy="395.4" r="2.0" fill="#e62e6c"/>
<circle cx="383.0" cy="395.5" r="2.0" fill="#e62e6c"/>
<circle cx="389.5" cy="395.5" r="2.0" fill="#e62e6c"/>
<circle cx="396.0" cy="395.6" r="2.1" fill="#e62e6c"/>
<circle cx="402.5" cy="395.7" r="2.1" fill="#e62e6c"/>
<circle cx="409.0" cy="395.7" r="2.1" fill="#e62e6c"/>
<circle cx="415.5" cy="395.8" r="2.1" fill="#e62e6c"/>
<circle cx="422.0" cy="395.9" r="2.2" fill="#e62e6c"/>
<circle cx="428.5" cy="395.9" r="2.2" fill="#e62e6c"/>
<circle cx="435.0" cy="396.0" r="2.2" fill="#e62e6c"/>
<circle cx="441.5" cy="396.1" r="2.2" fill="#e62e6c"/>
<circle cx="448.0" cy="396.2" r="2.3" fill="#e62e6c"/>
<circle cx="454.5" cy="396.2" r="2.3" fill="#e62e6c"/>
<circle cx="461.0" cy="396.3" r="2.3" fill="#e62e6c"/>
<circle cx="467.5" cy="396.4" r="2.3" fill="#e62e6c"/>
<circle cx="474.0" cy="396.4" r="2.3" fill="#e62e6c"/>
<circle cx="480.5" cy="396.5" r="2.4" fill="#e62e6c"/>
<circle cx="487.0" cy="396.6" r="2.4" fill="#e62e6c"/>
<circle cx="493.5" cy="396.6" r="2.4" fill="#e62e6c"/>
<circle cx="500.0" cy="396.7" r="2.4" fill="#e62e6c"/>
<circle cx="506.5" cy="396.8" r="2.5" fill="#e62e6c"/>
<circle cx="513.0" cy="396.8" r="2.5" fill="#e62e6c"/>
<circle cx="519.5" cy="396.9" r="2.5" fill="#e62e6c"/>
<circle cx="526.0" cy="397.0" r="2.5" fill="#e62e6c"/>
<circle cx="532.5" cy="397.0" r="2.5" fill="#e62e6c"/>
<circle cx="539.0" cy="397.1" r="2.6" fill="#e62e6c"/>
<circle cx="545.5" cy="397.2" r="2.6" fill="#e62e6c"/>
<circle cx="262.6" cy="392.8" r="2.3" fill="#ee3f7a"/>
<path d="M264,415.4 L330,416.8 L430,420.8 L492,425.4 L520.6,429.4 L552.4,412.6 L553,419.8 L521.6,437 L492,433 L430,427.4 L330,422.2 L264,420.4 Z" fill="#ea3270"/>
<circle cx="266.0" cy="416.1" r="1.7" fill="#f04a84"/>
<circle cx="273.0" cy="416.3" r="1.7" fill="#f04a84"/>
<circle cx="280.0" cy="416.5" r="1.8" fill="#f04a84"/>
<circle cx="287.0" cy="416.7" r="1.8" fill="#f04a84"/>
<circle cx="294.0" cy="417.0" r="1.8" fill="#f04a84"/>
<circle cx="301.0" cy="417.2" r="1.9" fill="#f04a84"/>
<circle cx="308.0" cy="417.5" r="1.9" fill="#f04a84"/>
<circle cx="315.0" cy="417.8" r="1.9" fill="#f04a84"/>
<circle cx="322.0" cy="418.1" r="1.9" fill="#f04a84"/>
<circle cx="329.0" cy="418.4" r="2.0" fill="#f04a84"/>
<circle cx="336.0" cy="418.7" r="2.0" fill="#f04a84"/>
<circle cx="343.0" cy="419.0" r="2.0" fill="#f04a84"/>
<circle cx="350.0" cy="419.4" r="2.1" fill="#f04a84"/>
<circle cx="357.0" cy="419.7" r="2.1" fill="#f04a84"/>
<circle cx="364.0" cy="420.1" r="2.1" fill="#f04a84"/>
<circle cx="371.0" cy="420.4" r="2.1" fill="#f04a84"/>
<circle cx="378.0" cy="420.8" r="2.2" fill="#f04a84"/>
<circle cx="385.0" cy="421.1" r="2.2" fill="#f04a84"/>
<circle cx="392.0" cy="421.5" r="2.2" fill="#f04a84"/>
<circle cx="399.0" cy="421.9" r="2.2" fill="#f04a84"/>
<circle cx="406.0" cy="422.2" r="2.3" fill="#f04a84"/>
<circle cx="413.0" cy="422.6" r="2.3" fill="#f04a84"/>
<circle cx="420.0" cy="423.0" r="2.3" fill="#f04a84"/>
<circle cx="427.0" cy="423.4" r="2.4" fill="#f04a84"/>
<circle cx="434.0" cy="423.8" r="2.4" fill="#f04a84"/>
<circle cx="441.0" cy="424.2" r="2.4" fill="#f04a84"/>
<circle cx="448.0" cy="424.6" r="2.4" fill="#f04a84"/>
<circle cx="455.0" cy="425.0" r="2.5" fill="#f04a84"/>
<circle cx="462.0" cy="425.4" r="2.5" fill="#f04a84"/>
<circle cx="469.0" cy="425.8" r="2.5" fill="#f04a84"/>
<circle cx="476.0" cy="426.2" r="2.6" fill="#f04a84"/>
<circle cx="483.0" cy="426.7" r="2.6" fill="#f04a84"/>
<circle cx="490.0" cy="427.1" r="2.6" fill="#f04a84"/>
<circle cx="497.0" cy="427.5" r="2.6" fill="#f04a84"/>
<circle cx="504.0" cy="427.9" r="2.7" fill="#f04a84"/>
<circle cx="511.0" cy="428.4" r="2.7" fill="#f04a84"/>
<circle cx="518.0" cy="428.8" r="2.7" fill="#f04a84"/>
<circle cx="262.6" cy="418" r="2.3" fill="#ee3f7a"/>
<path d="M262.6,393 L270,405.5 L262.6,418 M270,393 L262.6,405.5 L270,418" stroke="#c8b8c8" stroke-width="0.8" fill="none"/>
<polygon points="486,373 500,369 573,364 573,381 486,382" fill="#9a94f4"/>
<line x1="383.8" y1="365.0" x2="397.8" y2="367.4" stroke="#6262e8" stroke-width="10.6" stroke-linecap="round"/>
<line x1="405.8" y1="365.0" x2="417.8" y2="367.2" stroke="#6262e8" stroke-width="10.6" stroke-linecap="round"/>
<line x1="429.2" y1="365.0" x2="437.2" y2="367.0" stroke="#6262e8" stroke-width="10.6" stroke-linecap="round"/>
<line x1="452.0" y1="365.0" x2="455.0" y2="366.0" stroke="#6262e8" stroke-width="10.6" stroke-linecap="round"/>
<line x1="500.6" y1="363.4" x2="488.6" y2="369.0" stroke="#6262e8" stroke-width="10.6" stroke-linecap="round"/>
<line x1="526.6" y1="362.2" x2="507.6" y2="367.2" stroke="#6262e8" stroke-width="10.6" stroke-linecap="round"/>
<line x1="553.9" y1="361.2" x2="530.9" y2="365.6" stroke="#6262e8" stroke-width="10.6" stroke-linecap="round"/>
<line x1="582.0" y1="360.6" x2="558.0" y2="364.6" stroke="#6262e8" stroke-width="10.6" stroke-linecap="round"/>
<line x1="369.5" y1="381.6" x2="386.5" y2="382.2" stroke="#6c62ea" stroke-width="10.2" stroke-linecap="round"/>
<line x1="391.6" y1="381.6" x2="410.6" y2="382.2" stroke="#6c62ea" stroke-width="10.2" stroke-linecap="round"/>
<line x1="414.9" y1="381.6" x2="428.9" y2="382.2" stroke="#6c62ea" stroke-width="10.2" stroke-linecap="round"/>
<line x1="438.3" y1="381.6" x2="446.3" y2="382.2" stroke="#6c62ea" stroke-width="10.2" stroke-linecap="round"/>
<line x1="487.7" y1="381.8" x2="478.7" y2="382.4" stroke="#6c62ea" stroke-width="10.2" stroke-linecap="round"/>
<line x1="513.6" y1="382.0" x2="495.6" y2="382.6" stroke="#6c62ea" stroke-width="10.2" stroke-linecap="round"/>
<line x1="541.0" y1="382.0" x2="519.0" y2="382.6" stroke="#6c62ea" stroke-width="10.2" stroke-linecap="round"/>
<line x1="567.0" y1="382.0" x2="545.0" y2="382.6" stroke="#6c62ea" stroke-width="10.2" stroke-linecap="round"/>
<line x1="594.0" y1="382.0" x2="571.0" y2="382.6" stroke="#6c62ea" stroke-width="10.2" stroke-linecap="round"/>
<line x1="374.5" y1="378.6" x2="400.5" y2="365.6" stroke="#cfcbd8" stroke-width="3.2" stroke-linecap="round"/>
<line x1="396.6" y1="378.6" x2="422.6" y2="365.6" stroke="#cfcbd8" stroke-width="3.2" stroke-linecap="round"/>
<line x1="419.9" y1="378.6" x2="445.9" y2="365.6" stroke="#cfcbd8" stroke-width="3.2" stroke-linecap="round"/>
<line x1="443.3" y1="378.6" x2="469.3" y2="365.6" stroke="#cfcbd8" stroke-width="3.2" stroke-linecap="round"/>
<line x1="467.3" y1="378.6" x2="493.3" y2="365.6" stroke="#cfcbd8" stroke-width="3.2" stroke-linecap="round"/>
<line x1="492.7" y1="378.8" x2="518.7" y2="365.8" stroke="#cfcbd8" stroke-width="3.2" stroke-linecap="round"/>
<line x1="518.6" y1="379.0" x2="544.6" y2="366.0" stroke="#cfcbd8" stroke-width="3.2" stroke-linecap="round"/>
<line x1="546.0" y1="379.0" x2="572.0" y2="366.0" stroke="#cfcbd8" stroke-width="3.2" stroke-linecap="round"/>
<line x1="572.0" y1="379.0" x2="598.0" y2="366.0" stroke="#cfcbd8" stroke-width="3.2" stroke-linecap="round"/>
<line x1="599.0" y1="379.0" x2="625.0" y2="366.0" stroke="#cfcbd8" stroke-width="3.2" stroke-linecap="round"/>
<ellipse cx="387.7" cy="372.6" rx="4.6" ry="4.9" fill="url(#pd)"/>
<line x1="384.3" y1="368.2" x2="390.3" y2="378.0" stroke="#dcd8ea" stroke-width="1.9"/>
<ellipse cx="409.7" cy="372.6" rx="4.6" ry="4.9" fill="url(#pd)"/>
<line x1="406.3" y1="368.2" x2="412.3" y2="378.0" stroke="#dcd8ea" stroke-width="1.9"/>
<ellipse cx="433.1" cy="373.0" rx="4.6" ry="4.9" fill="url(#pd)"/>
<line x1="429.7" y1="368.6" x2="435.7" y2="378.4" stroke="#dcd8ea" stroke-width="1.9"/>
<ellipse cx="456.5" cy="372.8" rx="4.6" ry="4.9" fill="url(#pd)"/>
<line x1="453.1" y1="368.4" x2="459.1" y2="378.2" stroke="#dcd8ea" stroke-width="1.9"/>
<ellipse cx="481.2" cy="372.8" rx="4.6" ry="4.9" fill="url(#pd)"/>
<line x1="477.8" y1="368.4" x2="483.8" y2="378.2" stroke="#dcd8ea" stroke-width="1.9"/>
<ellipse cx="506.0" cy="373.2" rx="4.6" ry="4.9" fill="url(#pd)"/>
<line x1="502.6" y1="368.8" x2="508.6" y2="378.6" stroke="#dcd8ea" stroke-width="1.9"/>
<ellipse cx="533.0" cy="372.0" rx="4.6" ry="4.9" fill="url(#pd)"/>
<line x1="529.6" y1="367.6" x2="535.6" y2="377.4" stroke="#dcd8ea" stroke-width="1.9"/>
<ellipse cx="560.0" cy="371.4" rx="4.6" ry="4.9" fill="url(#pd)"/>
<line x1="556.6" y1="367.0" x2="562.6" y2="376.8" stroke="#dcd8ea" stroke-width="1.9"/>
<ellipse cx="383.8" cy="364.0" rx="4.7" ry="6.9" fill="url(#se)"/>
<ellipse cx="405.8" cy="364.0" rx="4.7" ry="6.9" fill="url(#se)"/>
<ellipse cx="429.2" cy="364.0" rx="4.7" ry="6.9" fill="url(#se)"/>
<ellipse cx="452.0" cy="364.0" rx="4.7" ry="6.9" fill="url(#se)"/>
<ellipse cx="475.3" cy="364.0" rx="4.7" ry="6.9" fill="url(#se)"/>
<ellipse cx="500.6" cy="362.4" rx="4.7" ry="6.9" fill="url(#se)"/>
<ellipse cx="526.6" cy="361.2" rx="4.7" ry="6.9" fill="url(#se)"/>
<ellipse cx="553.9" cy="360.2" rx="4.7" ry="6.9" fill="url(#se)"/>
<ellipse cx="582.0" cy="359.6" rx="4.7" ry="6.9" fill="url(#se)"/>
<ellipse cx="369.5" cy="381.6" rx="4.6" ry="6.4" fill="url(#se)"/>
<ellipse cx="391.6" cy="381.6" rx="4.6" ry="6.4" fill="url(#se)"/>
<ellipse cx="414.9" cy="381.6" rx="4.6" ry="6.4" fill="url(#se)"/>
<ellipse cx="438.3" cy="381.6" rx="4.6" ry="6.4" fill="url(#se)"/>
<ellipse cx="462.3" cy="381.6" rx="4.6" ry="6.4" fill="url(#se)"/>
<ellipse cx="487.7" cy="381.8" rx="4.6" ry="6.4" fill="url(#se)"/>
<ellipse cx="513.6" cy="382.0" rx="4.6" ry="6.4" fill="url(#se)"/>
<ellipse cx="541.0" cy="382.0" rx="4.6" ry="6.4" fill="url(#se)"/>
<ellipse cx="567.0" cy="382.0" rx="4.6" ry="6.4" fill="url(#se)"/>
<ellipse cx="594.0" cy="382.0" rx="4.6" ry="6.4" fill="url(#se)"/></g>
<rect x="289.2" y="348.2" width="70.2" height="31.2" fill="#fff" stroke="#000" stroke-width="0.9"/>
<text x="324.6" y="370.5" font-size="19.8" text-anchor="middle" fill="#000">PdSe<tspan font-size="13" dy="3.6">2</tspan></text>
<rect x="289.2" y="393.8" width="70.2" height="31.2" fill="#fff" stroke="#000" stroke-width="0.9"/>
<text x="324.6" y="416.1" font-size="19.8" text-anchor="middle" fill="#000">MoS<tspan font-size="13" dy="3.6">2</tspan></text>
<rect x="289.2" y="438.6" width="70.2" height="31.2" fill="#fff" stroke="#000" stroke-width="0.9"/>
<text x="324.6" y="460.9" font-size="19.8" text-anchor="middle" fill="#000">PdSe<tspan font-size="13" dy="3.6">2</tspan></text>
<text x="222.4" y="14.8" font-size="18.5" font-weight="bold" fill="#000">a</text>
</g>
<g id="pb">
<rect x="624.9" y="2.4" width="173.1" height="155.2" fill="#e9eafc"/>
<g filter="url(#soft)"><rect x="639.2" y="20" width="72.0" height="28.0" rx="4.5" fill="#fdc402"/>
<rect x="757.5" y="79.2" width="26.8" height="64.7" rx="4.5" fill="#f2ba02"/>
<rect x="675.9" y="55" width="78.1" height="49.0" fill="#a48aca"/>
<rect x="675.9" y="15.3" width="56.1" height="78.6" fill="#6f7fb8" fill-opacity="0.72"/>
<path d="M675.9,20 H706.7 a4.5,4.5 0 0 1 4.5,4.5 V43.5 a4.5,4.5 0 0 1 -4.5,4.5 H675.9 Z" fill="#9a9499"/>
<rect x="675.9" y="55" width="56.1" height="38.9" fill="#8f7abd"/>
<polygon points="700,78.2 757.1,81.6 757.1,126.5 697.3,122.4" fill="#98a1cb"/>
<rect x="675.9" y="55" width="78.1" height="49.0" fill="#8488ba" clip-path="url(#bbc0)"/></g>
<text x="631" y="145.3" font-size="13.4" fill="#111">V <tspan font-size="8.5" dy="3.2">ds</tspan><tspan dy="-3.2"> = 0 V</tspan></text>
<rect x="623" y="174.3" width="174.0" height="155.5" fill="#e9eafc"/>
<g filter="url(#soft)"><rect x="637.8" y="190.6" width="72.4" height="28.0" rx="4.5" fill="#fdc402"/>
<rect x="756.1" y="249.6" width="26.6" height="65.5" rx="4.5" fill="#f2ba02"/>
<rect x="673.9" y="225.7" width="78.1" height="49.0" fill="#a48aca"/>
<rect x="673.9" y="185.9" width="56.9" height="78.1" fill="#6f7fb8" fill-opacity="0.72"/>
<path d="M673.9,190.6 H705.7 a4.5,4.5 0 0 1 4.5,4.5 V214.1 a4.5,4.5 0 0 1 -4.5,4.5 H673.9 Z" fill="#9a9499"/>
<rect x="673.9" y="225.7" width="56.9" height="38.3" fill="#8f7abd"/>
<polygon points="698.6,248.8 777.5,253.9 774.9,299.2 695.9,293.1" fill="#98a1cb"/>
<rect x="673.9" y="225.7" width="78.1" height="49.0" fill="#8488ba" clip-path="url(#bbc1)"/>
<rect x="756.1" y="249.6" width="26.6" height="65.5" rx="4.5" fill="#9a9794" clip-path="url(#bbc1)"/></g>
<g filter="url(#soft2)"><polygon points="707.0,234.5 707.0,208.2 710.2,208.2 703.2,200.2 696.2,208.2 699.4,208.2 699.4,234.5" fill="url(#ag10)"/></g>
<g filter="url(#soft2)"><polygon points="747.4,272.5 720.1,269.7 720.5,266.6 711.8,272.7 719.0,280.5 719.4,277.3 746.6,280.1" fill="url(#ag11)"/></g>
<text x="633.3" y="316" font-size="13.4" fill="#111">V <tspan font-size="8.5" dy="3.2">ds</tspan><tspan dy="-3.2"> &gt; 0 V</tspan></text>
<text x="677" y="249.8" font-size="15.5" fill="#111">I<tspan font-size="10.5" dy="3.6">ph1</tspan></text>
<rect x="623" y="346.9" width="174.0" height="154.9" fill="#e9eafc"/>
<g filter="url(#soft)"><rect x="637.8" y="364.3" width="72.2" height="27.5" rx="4.5" fill="#fdc402"/>
<rect x="756.5" y="423.3" width="26.5" height="65.3" rx="4.5" fill="#f2ba02"/>
<rect x="674.9" y="399.8" width="78.0" height="48.6" fill="#a48aca"/>
<rect x="674.9" y="360" width="55.9" height="77.5" fill="#6f7fb8" fill-opacity="0.72"/>
<path d="M674.9,364.3 H705.5 a4.5,4.5 0 0 1 4.5,4.5 V387.3 a4.5,4.5 0 0 1 -4.5,4.5 H674.9 Z" fill="#9a9499"/>
<rect x="674.9" y="399.8" width="55.9" height="37.7" fill="#8f7abd"/>
<polygon points="698.6,422.2 756.7,426.3 756.7,471.2 695.9,466.1" fill="#98a1cb"/>
<rect x="674.9" y="399.8" width="78.0" height="48.6" fill="#8488ba" clip-path="url(#bbc2)"/></g>
<g filter="url(#soft2)"><polygon points="699.4,373.5 699.4,400.2 696.2,400.2 703.2,408.2 710.2,400.2 707.0,400.2 707.0,373.5" fill="url(#ag20)"/></g>
<g filter="url(#soft2)"><polygon points="711.4,450.1 738.7,452.8 738.3,456.0 747.0,449.8 739.7,442.0 739.4,445.2 712.2,442.5" fill="url(#ag21)"/></g>
<text x="633" y="489.6" font-size="13.4" fill="#111">V <tspan font-size="8.5" dy="3.2">ds</tspan><tspan dy="-3.2"> &lt; 0 V</tspan></text>
<text x="677" y="423.9" font-size="15.5" fill="#111">I<tspan font-size="10.5" dy="3.6">ph2</tspan></text>
<text x="604.5" y="17.3" font-size="18.5" font-weight="bold" fill="#000">b</text>
</g>
<g id="pc">
<text x="818.6" y="13.8" font-size="18.5" font-weight="bold" fill="#000">c</text>
<text x="841.4" y="11" font-size="13.6" fill="#111">Bottom PdSe<tspan font-size="8.8" dy="2.6">2</tspan></text><text x="933.2" y="11" font-size="13.6" fill="#111">MoS<tspan font-size="8.8" dy="2.6">2</tspan></text><text x="985.2" y="11" font-size="13.6" fill="#111">Top PdSe<tspan font-size="8.8" dy="2.6">2</tspan></text>
<path d="M844.8,156.6 V16.9 H1036.9 V156.6" fill="none" stroke="#dcdcdf" stroke-width="1.1"/>
<line x1="844.3" y1="157.4" x2="1037.4" y2="157.4" stroke="#4a4a4a" stroke-width="1"/>
<g filter="url(#cblur)"><path d="M844.8,53.9 H928.3 V40.6 C940,40.2 949,36.5 954,30 C957.5,36 962,39.9 969,39.9 H1037" fill="none" stroke="#d8536a" stroke-width="1.25"/>
<path d="M844.8,70.4 H928.6 V142.2 C936,143.6 948,141.5 957.9,134.6 V56 C960,61.5 964,65.8 971,65.8 H1037" fill="none" stroke="#3f5ea6" stroke-width="1.25"/>
<circle cx="886.2" cy="29.2" r="6.2" fill="url(#eball)"/><rect x="884.0" y="28.3" width="4.2" height="1.1" fill="#fff" fill-opacity="0.92"/>
<polygon points="899.4,31.9 941.8,31.9 941.8,35.1 948.3,29.2 941.8,23.3 941.8,26.4 899.4,26.4" fill="url(#rarr)" stroke="#dc566e" stroke-width="0.7" stroke-linejoin="miter"/>
<circle cx="977.7" cy="31.2" r="6.2" fill="url(#eball)"/><rect x="975.5" y="30.3" width="4.2" height="1.1" fill="#fff" fill-opacity="0.92"/>
<polygon points="989.3,34.0 1020.9,34.0 1020.9,37.1 1027.4,31.2 1020.9,25.3 1020.9,28.4 989.3,28.4" fill="url(#rarr)" stroke="#dc566e" stroke-width="0.7" stroke-linejoin="miter"/>
<polygon points="905.9,69.6 905.9,58.4 907.5,58.4 904.4,54.8 901.3,58.4 902.9,58.4 902.9,69.6" fill="#a9bbe6" stroke="#7f99d4" stroke-width="0.5" stroke-linejoin="miter"/>
<polygon points="977.2,65.0 977.2,47.2 978.8,47.2 975.7,43.6 972.6,47.2 974.2,47.2 974.2,65.0" fill="#a9bbe6" stroke="#7f99d4" stroke-width="0.5" stroke-linejoin="miter"/>
<polygon points="984.3,43.0 984.3,60.3 982.7,60.3 985.8,63.9 988.9,60.3 987.3,60.3 987.3,43.0" fill="#ee8e9a" stroke="#e26a7c" stroke-width="0.5" stroke-linejoin="miter"/>
<polygon points="891.2,78.2 859.3,78.2 859.3,75.3 852.9,81.2 859.3,87.1 859.3,84.2 891.2,84.2" fill="url(#barr)" stroke="#5d7cc4" stroke-width="0.7" stroke-linejoin="miter"/>
<circle cx="904.4" cy="81.2" r="6.2" fill="url(#hball)"/><path d="M901.0,81.2 H907.8 M904.4,77.8 V84.60000000000001" stroke="#8e9aa6" stroke-width="1" fill="none"/>
<path d="M993.3,72.0 C975.8,72.19999999999999 962.8,75.0 962.5999999999999,81.19999999999999 L962.5999999999999,85.8 C964.8,80.19999999999999 976.8,77.6 993.3,77.6 Z" fill="#a0a8c4" stroke="#5d7cc4" stroke-width="0.6"/><path d="M962.5999999999999,81.0 C962.1999999999999,88.19999999999999 972.8,91.19999999999999 987.4,92.0 L987.1999999999999,94.8 L993.4,89.19999999999999 L987.5999999999999,82.8 L987.5,85.8 C974.8,85.19999999999999 966.8,83.19999999999999 962.5999999999999,81.0 Z" fill="url(#barr)" stroke="#5d7cc4" stroke-width="0.7"/>
<circle cx="1003.6" cy="77.7" r="6.2" fill="url(#hball)"/><path d="M1000.2,77.7 H1007.0 M1003.6,74.3 V81.10000000000001" stroke="#8e9aa6" stroke-width="1" fill="none"/></g>
<text x="851.4" y="149.6" font-size="11.7" fill="#222">V<tspan font-size="7.2" dy="2.6" font-family="Liberation Sans, sans-serif">ds</tspan><tspan dy="-2.6"> &gt; 0 V</tspan></text>
<line x1="997.1" y1="135.1" x2="1009" y2="135.1" stroke="#eea2aa" stroke-width="0.9"/>
<text x="1012.8" y="137.8" font-size="12" fill="#111">E<tspan font-size="7.8" dy="2.4">c</tspan></text>
<line x1="997.1" y1="149.2" x2="1009" y2="149.2" stroke="#f0f2f8" stroke-width="0.9"/>
<text x="1012.8" y="152" font-size="12" fill="#666">E<tspan font-size="7.8" dy="2.4">v</tspan></text>
<text x="840.2" y="177.5" font-size="13.6" fill="#111">Bottom PdSe<tspan font-size="8.8" dy="2.6">2</tspan></text><text x="935.2" y="177.5" font-size="13.6" fill="#111">MoS<tspan font-size="8.8" dy="2.6">2</tspan></text><text x="987.8" y="177.5" font-size="13.6" fill="#111">Top PdSe<tspan font-size="8.8" dy="2.6">2</tspan></text>
<path d="M844.8,323 V183.6 H1037.1 V323" fill="none" stroke="#a9a9ac" stroke-width="1.2"/>
<line x1="844.8" y1="183.6" x2="1037.1" y2="183.6" stroke="#e6e6e8" stroke-width="1.4"/>
<line x1="844.2" y1="323.5" x2="1037.7" y2="323.5" stroke="#666" stroke-width="1"/>
<g filter="url(#cblur)"><path d="M844.8,212.2 H916 C923,212.2 928,208 931.4,201.6 C934.5,206.5 941,211.6 950,211.6 H958.6 V224.7 H1037" fill="none" stroke="#d8536a" stroke-width="1.25"/>
<path d="M844.8,236.6 H915 C921,236.6 925.5,232 927.8,226.2 V297.7 C933,304.5 942,309.5 951,309.4 C954,309.4 957,309 959.2,308.4 V249 H1037" fill="none" stroke="#3f5ea6" stroke-width="1.25"/>
<polygon points="891.2,197.8 859.4,197.8 859.4,194.7 852.9,200.6 859.4,206.5 859.4,203.3 891.2,203.3" fill="url(#rarr)" stroke="#dc566e" stroke-width="0.7" stroke-linejoin="miter"/>
<circle cx="903.9" cy="200.9" r="6.2" fill="url(#eball)"/><rect x="901.6999999999999" y="200.0" width="4.2" height="1.1" fill="#fff" fill-opacity="0.92"/>
<polygon points="985.8,193.8 941.4,193.8 941.4,190.7 934.9,196.6 941.4,202.5 941.4,199.3 985.8,199.3" fill="url(#rarr)" stroke="#dc566e" stroke-width="0.7" stroke-linejoin="miter"/>
<circle cx="999.9" cy="196.1" r="6.2" fill="url(#eball)"/><rect x="997.6999999999999" y="195.2" width="4.2" height="1.1" fill="#fff" fill-opacity="0.92"/>
<polygon points="898.9,234.9 898.9,217.6 900.5,217.6 897.4,214.0 894.3,217.6 895.9,217.6 895.9,234.9" fill="#a9bbe6" stroke="#7f99d4" stroke-width="0.5" stroke-linejoin="miter"/>
<polygon points="904.6,214.2 904.6,231.3 903.0,231.3 906.1,234.9 909.2,231.3 907.6,231.3 907.6,214.2" fill="#ee8e9a" stroke="#e26a7c" stroke-width="0.5" stroke-linejoin="miter"/>
<polygon points="977.0,246.8 977.0,232.8 978.6,232.8 975.5,229.2 972.4,232.8 974.0,232.8 974.0,246.8" fill="#a9bbe6" stroke="#7f99d4" stroke-width="0.5" stroke-linejoin="miter"/>
<circle cx="881.7" cy="250.6" r="6.2" fill="url(#hball)"/><path d="M878.3000000000001,250.6 H885.1 M881.7,247.2 V254.0" stroke="#8e9aa6" stroke-width="1" fill="none"/>
<path d="M894.1,249.20000000000002 C911.6,249.4 924.6,252.20000000000002 924.8000000000001,258.40000000000003 L924.8000000000001,263.0 C922.6,257.40000000000003 910.6,254.8 894.1,254.8 Z" fill="#a0a8c4" stroke="#5d7cc4" stroke-width="0.6"/><path d="M924.8000000000001,258.2 C925.2,265.40000000000003 914.6,268.40000000000003 900.0,269.2 L900.2,272.0 L894.0,266.40000000000003 L899.8000000000001,260.0 L899.9,263.0 C912.6,262.40000000000003 920.6,260.40000000000003 924.8000000000001,258.2 Z" fill="url(#barr)" stroke="#5d7cc4" stroke-width="0.7"/>
<circle cx="976.5" cy="264.8" r="6.2" fill="url(#hball)"/><path d="M973.1,264.8 H979.9 M976.5,261.40000000000003 V268.2" stroke="#8e9aa6" stroke-width="1" fill="none"/>
<polygon points="989.1,269.5 1021.3,269.5 1021.3,272.4 1027.7,266.5 1021.3,260.6 1021.3,263.5 989.1,263.5" fill="url(#barr)" stroke="#5d7cc4" stroke-width="0.7" stroke-linejoin="miter"/></g>
<text x="851.4" y="315.8" font-size="11.7" fill="#222">V<tspan font-size="7.2" dy="2.6" font-family="Liberation Sans, sans-serif">ds</tspan><tspan dy="-2.6"> &lt; 0 V</tspan></text>
<line x1="999.5" y1="299.2" x2="1010.8" y2="299.2" stroke="#f4c8cc" stroke-width="0.9"/>
<text x="1014.6" y="302.9" font-size="12" fill="#111">E<tspan font-size="7.8" dy="2.4">c</tspan></text>
<line x1="999.5" y1="314.3" x2="1010.8" y2="314.3" stroke="#6a86c0" stroke-width="0.9"/>
<text x="1014.6" y="317.4" font-size="12" fill="#333">E<tspan font-size="7.8" dy="2.4">v</tspan></text>
</g>
<g id="pd">
<rect x="818" y="328" width="257.5" height="192" fill="#fbfbfb"/>
<rect x="845.1" y="331.7" width="194.2" height="144.7" fill="#fefefe"/>
<line x1="845" y1="343.4" x2="1039" y2="343.4" stroke="#cfcfcf" stroke-width="0.7" stroke-dasharray="2.5 2.5"/>
<line x1="861.3" y1="332" x2="861.3" y2="476" stroke="#e2e2e2" stroke-width="0.7" stroke-dasharray="2.5 2.5"/>
<g filter="url(#dblur)"><circle cx="1022.5" cy="464.0" r="1.6" fill="#840afa"/><circle cx="1022.3" cy="463.9" r="1.6" fill="#800bf9"/><circle cx="1021.9" cy="463.5" r="1.6" fill="#7d0cf8"/><circle cx="1021.1" cy="462.9" r="1.6" fill="#790df7"/><circle cx="1020.0" cy="462.1" r="1.6" fill="#760ef6"/><circle cx="1018.6" cy="461.0" r="1.6" fill="#720ff6"/><circle cx="1016.8" cy="459.8" r="1.6" fill="#6d11f4"/><circle cx="1014.8" cy="458.3" r="1.6" fill="#6513f3"/><circle cx="1012.5" cy="456.5" r="1.6" fill="#5e15f1"/><circle cx="1010.0" cy="454.6" r="1.6" fill="#5617f0"/><circle cx="1007.1" cy="452.5" r="1.6" fill="#4f19ee"/><circle cx="1004.0" cy="450.2" r="1.6" fill="#471bed"/><circle cx="1000.7" cy="447.7" r="1.6" fill="#401eeb"/><circle cx="997.1" cy="445.0" r="1.6" fill="#3b24eb"/><circle cx="993.3" cy="442.1" r="1.6" fill="#372bec"/><circle cx="989.3" cy="439.1" r="1.6" fill="#3233ec"/><circle cx="985.1" cy="436.0" r="1.6" fill="#2e3aed"/><circle cx="980.7" cy="432.7" r="1.6" fill="#2a42ed"/><circle cx="976.2" cy="429.4" r="1.6" fill="#2649ee"/><circle cx="971.6" cy="425.9" r="1.6" fill="#2251ee"/><circle cx="966.8" cy="422.3" r="1.6" fill="#215aef"/><circle cx="961.9" cy="418.7" r="1.6" fill="#2163f0"/><circle cx="957.0" cy="415.0" r="1.6" fill="#206cf1"/><circle cx="952.0" cy="411.3" r="1.6" fill="#2075f2"/><circle cx="947.0" cy="407.5" r="1.6" fill="#1f7ef3"/><circle cx="941.9" cy="403.7" r="1.6" fill="#1e87f4"/><circle cx="936.8" cy="399.9" r="1.6" fill="#1e8ff4"/><circle cx="931.8" cy="396.1" r="1.6" fill="#1e97f4"/><circle cx="926.8" cy="392.4" r="1.6" fill="#1f9ff3"/><circle cx="921.9" cy="388.7" r="1.6" fill="#1fa7f3"/><circle cx="917.0" cy="385.1" r="1.6" fill="#1faff3"/><circle cx="912.2" cy="381.5" r="1.6" fill="#20b6f2"/><circle cx="907.6" cy="378.0" r="1.6" fill="#20bef2"/><circle cx="903.1" cy="374.7" r="1.6" fill="#21c5ef"/><circle cx="898.7" cy="371.4" r="1.6" fill="#23cbec"/><circle cx="894.5" cy="368.3" r="1.6" fill="#24d0e8"/><circle cx="890.5" cy="365.3" r="1.6" fill="#25d6e4"/><circle cx="886.7" cy="362.4" r="1.6" fill="#27dce1"/><circle cx="883.1" cy="359.7" r="1.6" fill="#28e1db"/><circle cx="879.8" cy="357.2" r="1.6" fill="#2ae3ce"/><circle cx="876.7" cy="354.9" r="1.6" fill="#2ce5c1"/><circle cx="873.8" cy="352.8" r="1.6" fill="#2ee6b4"/><circle cx="871.3" cy="350.9" r="1.6" fill="#30e8a7"/><circle cx="869.0" cy="349.1" r="1.6" fill="#31e99a"/><circle cx="867.0" cy="347.6" r="1.6" fill="#30ea89"/><circle cx="865.2" cy="346.4" r="1.6" fill="#2dea75"/><circle cx="863.8" cy="345.3" r="1.6" fill="#2aea61"/><circle cx="862.7" cy="344.5" r="1.6" fill="#27ea4d"/><circle cx="861.9" cy="343.9" r="1.6" fill="#25ea3a"/><circle cx="861.5" cy="343.5" r="1.6" fill="#24ea28"/><circle cx="861.3" cy="343.4" r="1.6" fill="#35ea26"/><circle cx="861.5" cy="343.5" r="1.6" fill="#46ea23"/><circle cx="861.9" cy="343.9" r="1.6" fill="#57ea21"/><circle cx="862.7" cy="344.5" r="1.6" fill="#68ea1f"/><circle cx="863.8" cy="345.3" r="1.6" fill="#7aea1f"/><circle cx="865.2" cy="346.4" r="1.6" fill="#8cea20"/><circle cx="867.0" cy="347.6" r="1.6" fill="#9eea20"/><circle cx="869.0" cy="349.1" r="1.6" fill="#b0ea21"/><circle cx="871.3" cy="350.9" r="1.6" fill="#c0ea22"/><circle cx="873.8" cy="352.8" r="1.6" fill="#cbe824"/><circle cx="876.7" cy="354.9" r="1.6" fill="#d6e625"/><circle cx="879.8" cy="357.2" r="1.6" fill="#e1e426"/><circle cx="883.1" cy="359.7" r="1.6" fill="#ece228"/><circle cx="886.7" cy="362.4" r="1.6" fill="#efdd28"/><circle cx="890.5" cy="365.3" r="1.6" fill="#f0d727"/><circle cx="894.5" cy="368.3" r="1.6" fill="#f0d026"/><circle cx="898.7" cy="371.4" r="1.6" fill="#f1ca26"/><circle cx="903.1" cy="374.7" r="1.6" fill="#f2c425"/><circle cx="907.6" cy="378.0" r="1.6" fill="#f3be25"/><circle cx="912.2" cy="381.5" r="1.6" fill="#f4b724"/><circle cx="917.0" cy="385.1" r="1.6" fill="#f4b024"/><circle cx="921.9" cy="388.7" r="1.6" fill="#f4a824"/><circle cx="926.8" cy="392.4" r="1.6" fill="#f4a124"/><circle cx="931.8" cy="396.1" r="1.6" fill="#f49924"/><circle cx="936.8" cy="399.9" r="1.6" fill="#f49224"/><circle cx="941.9" cy="403.7" r="1.6" fill="#f48a24"/><circle cx="947.0" cy="407.5" r="1.6" fill="#f48324"/><circle cx="952.0" cy="411.3" r="1.6" fill="#f47c24"/><circle cx="957.0" cy="415.0" r="1.6" fill="#f37524"/><circle cx="961.9" cy="418.7" r="1.6" fill="#f36e24"/><circle cx="966.8" cy="422.3" r="1.6" fill="#f36724"/><circle cx="971.6" cy="425.9" r="1.6" fill="#f26024"/><circle cx="976.2" cy="429.4" r="1.6" fill="#f25a24"/><circle cx="980.7" cy="432.7" r="1.6" fill="#f15223"/><circle cx="985.1" cy="436.0" r="1.6" fill="#f14a22"/><circle cx="989.3" cy="439.1" r="1.6" fill="#f04221"/><circle cx="993.3" cy="442.1" r="1.6" fill="#ef3a20"/><circle cx="997.1" cy="445.0" r="1.6" fill="#ef321f"/><circle cx="1000.7" cy="447.7" r="1.6" fill="#ee2b1e"/><circle cx="1004.0" cy="450.2" r="1.6" fill="#ec241e"/><circle cx="1007.1" cy="452.5" r="1.6" fill="#ea1d1e"/><circle cx="1010.0" cy="454.6" r="1.6" fill="#e8171e"/><circle cx="1012.5" cy="456.5" r="1.6" fill="#d7144a"/><circle cx="1014.8" cy="458.3" r="1.6" fill="#c4117c"/><circle cx="1016.8" cy="459.8" r="1.6" fill="#af0eaa"/><circle cx="1018.6" cy="461.0" r="1.6" fill="#980cd7"/><circle cx="1020.0" cy="462.1" r="1.6" fill="#8b0af1"/><circle cx="1021.1" cy="462.9" r="1.6" fill="#890af3"/><circle cx="1021.9" cy="463.5" r="1.6" fill="#880af6"/><circle cx="1022.3" cy="463.9" r="1.6" fill="#860af8"/><circle cx="1022.5" cy="464.0" r="1.6" fill="#840afa"/><rect x="1002.2" y="462.6" width="2.9" height="2.9" fill="#840afa"/><rect x="1005.3" y="462.4" width="2.9" height="2.9" fill="#800bf9"/><rect x="1008.2" y="462.1" width="2.9" height="2.9" fill="#7d0cf8"/><rect x="1010.8" y="461.5" width="2.9" height="2.9" fill="#790df7"/><rect x="1013.1" y="460.7" width="2.9" height="2.9" fill="#760ef6"/><rect x="1015.2" y="459.6" width="2.9" height="2.9" fill="#720ff6"/><rect x="1016.9" y="458.3" width="2.9" height="2.9" fill="#6d11f4"/><rect x="1018.4" y="456.8" width="2.9" height="2.9" fill="#6513f3"/><rect x="1019.5" y="455.1" width="2.9" height="2.9" fill="#5e15f1"/><rect x="1020.3" y="453.2" width="2.9" height="2.9" fill="#5617f0"/><rect x="1020.9" y="451.0" width="2.9" height="2.9" fill="#4f19ee"/><rect x="1021.0" y="448.7" width="2.9" height="2.9" fill="#471bed"/><rect x="1020.9" y="446.2" width="2.9" height="2.9" fill="#401eeb"/><rect x="1020.5" y="443.5" width="2.9" height="2.9" fill="#3b24eb"/><rect x="1019.7" y="440.7" width="2.9" height="2.9" fill="#372bec"/><rect x="1018.7" y="437.7" width="2.9" height="2.9" fill="#3233ec"/><rect x="1017.3" y="434.6" width="2.9" height="2.9" fill="#2e3aed"/><rect x="1015.6" y="431.3" width="2.9" height="2.9" fill="#2a42ed"/><rect x="1013.6" y="427.9" width="2.9" height="2.9" fill="#2649ee"/><rect x="1011.3" y="424.4" width="2.9" height="2.9" fill="#2251ee"/><rect x="1008.8" y="420.9" width="2.9" height="2.9" fill="#215aef"/><rect x="1006.0" y="417.2" width="2.9" height="2.9" fill="#2163f0"/><rect x="1002.9" y="413.5" width="2.9" height="2.9" fill="#206cf1"/><rect x="999.6" y="409.8" width="2.9" height="2.9" fill="#2075f2"/><rect x="996.0" y="406.0" width="2.9" height="2.9" fill="#1f7ef3"/><rect x="992.3" y="402.2" width="2.9" height="2.9" fill="#1e87f4"/><rect x="988.3" y="398.5" width="2.9" height="2.9" fill="#1e8ff4"/><rect x="984.1" y="394.7" width="2.9" height="2.9" fill="#1e97f4"/><rect x="979.8" y="391.0" width="2.9" height="2.9" fill="#1f9ff3"/><rect x="975.3" y="387.3" width="2.9" height="2.9" fill="#1fa7f3"/><rect x="970.6" y="383.6" width="2.9" height="2.9" fill="#1faff3"/><rect x="965.9" y="380.1" width="2.9" height="2.9" fill="#20b6f2"/><rect x="961.0" y="376.6" width="2.9" height="2.9" fill="#20bef2"/><rect x="956.1" y="373.2" width="2.9" height="2.9" fill="#21c5ef"/><rect x="951.1" y="369.9" width="2.9" height="2.9" fill="#23cbec"/><rect x="946.1" y="366.8" width="2.9" height="2.9" fill="#24d0e8"/><rect x="941.0" y="363.8" width="2.9" height="2.9" fill="#25d6e4"/><rect x="936.0" y="361.0" width="2.9" height="2.9" fill="#27dce1"/><rect x="930.9" y="358.3" width="2.9" height="2.9" fill="#28e1db"/><rect x="925.9" y="355.8" width="2.9" height="2.9" fill="#2ae3ce"/><rect x="921.0" y="353.5" width="2.9" height="2.9" fill="#2ce5c1"/><rect x="916.1" y="351.3" width="2.9" height="2.9" fill="#2ee6b4"/><rect x="911.3" y="349.4" width="2.9" height="2.9" fill="#30e8a7"/><rect x="906.6" y="347.7" width="2.9" height="2.9" fill="#31e99a"/><rect x="902.1" y="346.2" width="2.9" height="2.9" fill="#30ea89"/><rect x="897.7" y="344.9" width="2.9" height="2.9" fill="#2dea75"/><rect x="893.5" y="343.8" width="2.9" height="2.9" fill="#2aea61"/><rect x="889.5" y="343.0" width="2.9" height="2.9" fill="#27ea4d"/><rect x="885.7" y="342.4" width="2.9" height="2.9" fill="#25ea3a"/><rect x="882.1" y="342.1" width="2.9" height="2.9" fill="#24ea28"/><rect x="878.7" y="341.9" width="2.9" height="2.9" fill="#35ea26"/><rect x="875.6" y="342.1" width="2.9" height="2.9" fill="#46ea23"/><rect x="872.7" y="342.4" width="2.9" height="2.9" fill="#57ea21"/><rect x="870.1" y="343.0" width="2.9" height="2.9" fill="#68ea1f"/><rect x="867.8" y="343.8" width="2.9" height="2.9" fill="#7aea1f"/><rect x="865.7" y="344.9" width="2.9" height="2.9" fill="#8cea20"/><rect x="864.0" y="346.2" width="2.9" height="2.9" fill="#9eea20"/><rect x="862.5" y="347.7" width="2.9" height="2.9" fill="#b0ea21"/><rect x="861.4" y="349.4" width="2.9" height="2.9" fill="#c0ea22"/><rect x="860.6" y="351.3" width="2.9" height="2.9" fill="#cbe824"/><rect x="860.0" y="353.5" width="2.9" height="2.9" fill="#d6e625"/><rect x="859.9" y="355.8" width="2.9" height="2.9" fill="#e1e426"/><rect x="860.0" y="358.3" width="2.9" height="2.9" fill="#ece228"/><rect x="860.4" y="361.0" width="2.9" height="2.9" fill="#efdd28"/><rect x="861.2" y="363.8" width="2.9" height="2.9" fill="#f0d727"/><rect x="862.2" y="366.8" width="2.9" height="2.9" fill="#f0d026"/><rect x="863.6" y="369.9" width="2.9" height="2.9" fill="#f1ca26"/><rect x="865.3" y="373.2" width="2.9" height="2.9" fill="#f2c425"/><rect x="867.3" y="376.6" width="2.9" height="2.9" fill="#f3be25"/><rect x="869.6" y="380.1" width="2.9" height="2.9" fill="#f4b724"/><rect x="872.1" y="383.6" width="2.9" height="2.9" fill="#f4b024"/><rect x="874.9" y="387.3" width="2.9" height="2.9" fill="#f4a824"/><rect x="878.0" y="391.0" width="2.9" height="2.9" fill="#f4a124"/><rect x="881.3" y="394.7" width="2.9" height="2.9" fill="#f49924"/><rect x="884.9" y="398.5" width="2.9" height="2.9" fill="#f49224"/><rect x="888.6" y="402.2" width="2.9" height="2.9" fill="#f48a24"/><rect x="892.6" y="406.0" width="2.9" height="2.9" fill="#f48324"/><rect x="896.8" y="409.8" width="2.9" height="2.9" fill="#f47c24"/><rect x="901.1" y="413.5" width="2.9" height="2.9" fill="#f37524"/><rect x="905.6" y="417.2" width="2.9" height="2.9" fill="#f36e24"/><rect x="910.3" y="420.9" width="2.9" height="2.9" fill="#f36724"/><rect x="915.0" y="424.4" width="2.9" height="2.9" fill="#f26024"/><rect x="919.9" y="427.9" width="2.9" height="2.9" fill="#f25a24"/><rect x="924.8" y="431.3" width="2.9" height="2.9" fill="#f15223"/><rect x="929.8" y="434.6" width="2.9" height="2.9" fill="#f14a22"/><rect x="934.8" y="437.7" width="2.9" height="2.9" fill="#f04221"/><rect x="939.9" y="440.7" width="2.9" height="2.9" fill="#ef3a20"/><rect x="944.9" y="443.5" width="2.9" height="2.9" fill="#ef321f"/><rect x="950.0" y="446.2" width="2.9" height="2.9" fill="#ee2b1e"/><rect x="955.0" y="448.7" width="2.9" height="2.9" fill="#ec241e"/><rect x="959.9" y="451.0" width="2.9" height="2.9" fill="#ea1d1e"/><rect x="964.8" y="453.2" width="2.9" height="2.9" fill="#e8171e"/><rect x="969.6" y="455.1" width="2.9" height="2.9" fill="#d7144a"/><rect x="974.3" y="456.8" width="2.9" height="2.9" fill="#c4117c"/><rect x="978.8" y="458.3" width="2.9" height="2.9" fill="#af0eaa"/><rect x="983.2" y="459.6" width="2.9" height="2.9" fill="#980cd7"/><rect x="987.4" y="460.7" width="2.9" height="2.9" fill="#8b0af1"/><rect x="991.4" y="461.5" width="2.9" height="2.9" fill="#890af3"/><rect x="995.2" y="462.1" width="2.9" height="2.9" fill="#880af6"/><rect x="998.8" y="462.4" width="2.9" height="2.9" fill="#860af8"/><rect x="1002.2" y="462.6" width="2.9" height="2.9" fill="#840afa"/><path d="M927.9,462.0 l2,3.5 h-4 z" fill="#840afa"/><path d="M932.9,461.9 l2,3.5 h-4 z" fill="#800bf9"/><path d="M938.0,461.5 l2,3.5 h-4 z" fill="#7d0cf8"/><path d="M943.0,460.9 l2,3.5 h-4 z" fill="#790df7"/><path d="M948.1,460.1 l2,3.5 h-4 z" fill="#760ef6"/><path d="M953.1,459.0 l2,3.5 h-4 z" fill="#720ff6"/><path d="M958.1,457.8 l2,3.5 h-4 z" fill="#6d11f4"/><path d="M963.0,456.3 l2,3.5 h-4 z" fill="#6513f3"/><path d="M967.9,454.5 l2,3.5 h-4 z" fill="#5e15f1"/><path d="M972.6,452.6 l2,3.5 h-4 z" fill="#5617f0"/><path d="M977.2,450.5 l2,3.5 h-4 z" fill="#4f19ee"/><path d="M981.7,448.2 l2,3.5 h-4 z" fill="#471bed"/><path d="M986.0,445.7 l2,3.5 h-4 z" fill="#401eeb"/><path d="M990.2,443.0 l2,3.5 h-4 z" fill="#3b24eb"/><path d="M994.1,440.1 l2,3.5 h-4 z" fill="#372bec"/><path d="M997.9,437.1 l2,3.5 h-4 z" fill="#3233ec"/><path d="M1001.4,434.0 l2,3.5 h-4 z" fill="#2e3aed"/><path d="M1004.7,430.7 l2,3.5 h-4 z" fill="#2a42ed"/><path d="M1007.8,427.4 l2,3.5 h-4 z" fill="#2649ee"/><path d="M1010.5,423.9 l2,3.5 h-4 z" fill="#2251ee"/><path d="M1013.1,420.3 l2,3.5 h-4 z" fill="#215aef"/><path d="M1015.3,416.7 l2,3.5 h-4 z" fill="#2163f0"/><path d="M1017.2,413.0 l2,3.5 h-4 z" fill="#206cf1"/><path d="M1018.9,409.3 l2,3.5 h-4 z" fill="#2075f2"/><path d="M1020.2,405.5 l2,3.5 h-4 z" fill="#1f7ef3"/><path d="M1021.3,401.7 l2,3.5 h-4 z" fill="#1e87f4"/><path d="M1022.0,397.9 l2,3.5 h-4 z" fill="#1e8ff4"/><path d="M1022.4,394.1 l2,3.5 h-4 z" fill="#1e97f4"/><path d="M1022.5,390.4 l2,3.5 h-4 z" fill="#1f9ff3"/><path d="M1022.3,386.7 l2,3.5 h-4 z" fill="#1fa7f3"/><path d="M1021.7,383.1 l2,3.5 h-4 z" fill="#1faff3"/><path d="M1020.9,379.5 l2,3.5 h-4 z" fill="#20b6f2"/><path d="M1019.7,376.0 l2,3.5 h-4 z" fill="#20bef2"/><path d="M1018.2,372.7 l2,3.5 h-4 z" fill="#21c5ef"/><path d="M1016.4,369.4 l2,3.5 h-4 z" fill="#23cbec"/><path d="M1014.3,366.3 l2,3.5 h-4 z" fill="#24d0e8"/><path d="M1012.0,363.3 l2,3.5 h-4 z" fill="#25d6e4"/><path d="M1009.3,360.4 l2,3.5 h-4 z" fill="#27dce1"/><path d="M1006.4,357.7 l2,3.5 h-4 z" fill="#28e1db"/><path d="M1003.3,355.2 l2,3.5 h-4 z" fill="#2ae3ce"/><path d="M999.9,352.9 l2,3.5 h-4 z" fill="#2ce5c1"/><path d="M996.2,350.8 l2,3.5 h-4 z" fill="#2ee6b4"/><path d="M992.4,348.9 l2,3.5 h-4 z" fill="#30e8a7"/><path d="M988.4,347.1 l2,3.5 h-4 z" fill="#31e99a"/><path d="M984.1,345.6 l2,3.5 h-4 z" fill="#30ea89"/><path d="M979.7,344.4 l2,3.5 h-4 z" fill="#2dea75"/><path d="M975.2,343.3 l2,3.5 h-4 z" fill="#2aea61"/><path d="M970.5,342.5 l2,3.5 h-4 z" fill="#27ea4d"/><path d="M965.7,341.9 l2,3.5 h-4 z" fill="#25ea3a"/><path d="M960.9,341.5 l2,3.5 h-4 z" fill="#24ea28"/><path d="M955.9,341.4 l2,3.5 h-4 z" fill="#35ea26"/><path d="M950.9,341.5 l2,3.5 h-4 z" fill="#46ea23"/><path d="M945.8,341.9 l2,3.5 h-4 z" fill="#57ea21"/><path d="M940.8,342.5 l2,3.5 h-4 z" fill="#68ea1f"/><path d="M935.7,343.3 l2,3.5 h-4 z" fill="#7aea1f"/><path d="M930.7,344.4 l2,3.5 h-4 z" fill="#8cea20"/><path d="M925.7,345.6 l2,3.5 h-4 z" fill="#9eea20"/><path d="M920.8,347.1 l2,3.5 h-4 z" fill="#b0ea21"/><path d="M915.9,348.9 l2,3.5 h-4 z" fill="#c0ea22"/><path d="M911.2,350.8 l2,3.5 h-4 z" fill="#cbe824"/><path d="M906.6,352.9 l2,3.5 h-4 z" fill="#d6e625"/><path d="M902.1,355.2 l2,3.5 h-4 z" fill="#e1e426"/><path d="M897.8,357.7 l2,3.5 h-4 z" fill="#ece228"/><path d="M893.6,360.4 l2,3.5 h-4 z" fill="#efdd28"/><path d="M889.7,363.3 l2,3.5 h-4 z" fill="#f0d727"/><path d="M885.9,366.3 l2,3.5 h-4 z" fill="#f0d026"/><path d="M882.4,369.4 l2,3.5 h-4 z" fill="#f1ca26"/><path d="M879.1,372.7 l2,3.5 h-4 z" fill="#f2c425"/><path d="M876.0,376.0 l2,3.5 h-4 z" fill="#f3be25"/><path d="M873.3,379.5 l2,3.5 h-4 z" fill="#f4b724"/><path d="M870.7,383.1 l2,3.5 h-4 z" fill="#f4b024"/><path d="M868.5,386.7 l2,3.5 h-4 z" fill="#f4a824"/><path d="M866.6,390.4 l2,3.5 h-4 z" fill="#f4a124"/><path d="M864.9,394.1 l2,3.5 h-4 z" fill="#f49924"/><path d="M863.6,397.9 l2,3.5 h-4 z" fill="#f49224"/><path d="M862.5,401.7 l2,3.5 h-4 z" fill="#f48a24"/><path d="M861.8,405.5 l2,3.5 h-4 z" fill="#f48324"/><path d="M861.4,409.3 l2,3.5 h-4 z" fill="#f47c24"/><path d="M861.3,413.0 l2,3.5 h-4 z" fill="#f37524"/><path d="M861.5,416.7 l2,3.5 h-4 z" fill="#f36e24"/><path d="M862.1,420.3 l2,3.5 h-4 z" fill="#f36724"/><path d="M862.9,423.9 l2,3.5 h-4 z" fill="#f26024"/><path d="M864.1,427.4 l2,3.5 h-4 z" fill="#f25a24"/><path d="M865.6,430.7 l2,3.5 h-4 z" fill="#f15223"/><path d="M867.4,434.0 l2,3.5 h-4 z" fill="#f14a22"/><path d="M869.5,437.1 l2,3.5 h-4 z" fill="#f04221"/><path d="M871.8,440.1 l2,3.5 h-4 z" fill="#ef3a20"/><path d="M874.5,443.0 l2,3.5 h-4 z" fill="#ef321f"/><path d="M877.4,445.7 l2,3.5 h-4 z" fill="#ee2b1e"/><path d="M880.5,448.2 l2,3.5 h-4 z" fill="#ec241e"/><path d="M883.9,450.5 l2,3.5 h-4 z" fill="#ea1d1e"/><path d="M887.6,452.6 l2,3.5 h-4 z" fill="#e8171e"/><path d="M891.4,454.5 l2,3.5 h-4 z" fill="#d7144a"/><path d="M895.4,456.3 l2,3.5 h-4 z" fill="#c4117c"/><path d="M899.7,457.8 l2,3.5 h-4 z" fill="#af0eaa"/><path d="M904.1,459.0 l2,3.5 h-4 z" fill="#980cd7"/><path d="M908.6,460.1 l2,3.5 h-4 z" fill="#8b0af1"/><path d="M913.3,460.9 l2,3.5 h-4 z" fill="#890af3"/><path d="M918.1,461.5 l2,3.5 h-4 z" fill="#880af6"/><path d="M922.9,461.9 l2,3.5 h-4 z" fill="#860af8"/><path d="M927.9,462.0 l2,3.5 h-4 z" fill="#840afa"/><path d="M861.3,461.9 l2.1,2.1 l-2.1,2.1 l-2.1,-2.1 z" fill="#840afa"/><path d="M861.5,461.8 l2.1,2.1 l-2.1,2.1 l-2.1,-2.1 z" fill="#800bf9"/><path d="M861.9,461.4 l2.1,2.1 l-2.1,2.1 l-2.1,-2.1 z" fill="#7d0cf8"/><path d="M862.7,460.8 l2.1,2.1 l-2.1,2.1 l-2.1,-2.1 z" fill="#790df7"/><path d="M863.8,460.0 l2.1,2.1 l-2.1,2.1 l-2.1,-2.1 z" fill="#760ef6"/><path d="M865.2,458.9 l2.1,2.1 l-2.1,2.1 l-2.1,-2.1 z" fill="#720ff6"/><path d="M867.0,457.7 l2.1,2.1 l-2.1,2.1 l-2.1,-2.1 z" fill="#6d11f4"/><path d="M869.0,456.2 l2.1,2.1 l-2.1,2.1 l-2.1,-2.1 z" fill="#6513f3"/><path d="M871.3,454.4 l2.1,2.1 l-2.1,2.1 l-2.1,-2.1 z" fill="#5e15f1"/><path d="M873.8,452.5 l2.1,2.1 l-2.1,2.1 l-2.1,-2.1 z" fill="#5617f0"/><path d="M876.7,450.4 l2.1,2.1 l-2.1,2.1 l-2.1,-2.1 z" fill="#4f19ee"/><path d="M879.8,448.1 l2.1,2.1 l-2.1,2.1 l-2.1,-2.1 z" fill="#471bed"/><path d="M883.1,445.6 l2.1,2.1 l-2.1,2.1 l-2.1,-2.1 z" fill="#401eeb"/><path d="M886.7,442.9 l2.1,2.1 l-2.1,2.1 l-2.1,-2.1 z" fill="#3b24eb"/><path d="M890.5,440.0 l2.1,2.1 l-2.1,2.1 l-2.1,-2.1 z" fill="#372bec"/><path d="M894.5,437.0 l2.1,2.1 l-2.1,2.1 l-2.1,-2.1 z" fill="#3233ec"/><path d="M898.7,433.9 l2.1,2.1 l-2.1,2.1 l-2.1,-2.1 z" fill="#2e3aed"/><path d="M903.1,430.6 l2.1,2.1 l-2.1,2.1 l-2.1,-2.1 z" fill="#2a42ed"/><path d="M907.6,427.3 l2.1,2.1 l-2.1,2.1 l-2.1,-2.1 z" fill="#2649ee"/><path d="M912.2,423.8 l2.1,2.1 l-2.1,2.1 l-2.1,-2.1 z" fill="#2251ee"/><path d="M917.0,420.2 l2.1,2.1 l-2.1,2.1 l-2.1,-2.1 z" fill="#215aef"/><path d="M921.9,416.6 l2.1,2.1 l-2.1,2.1 l-2.1,-2.1 z" fill="#2163f0"/><path d="M926.8,412.9 l2.1,2.1 l-2.1,2.1 l-2.1,-2.1 z" fill="#206cf1"/><path d="M931.8,409.2 l2.1,2.1 l-2.1,2.1 l-2.1,-2.1 z" fill="#2075f2"/><path d="M936.8,405.4 l2.1,2.1 l-2.1,2.1 l-2.1,-2.1 z" fill="#1f7ef3"/><path d="M941.9,401.6 l2.1,2.1 l-2.1,2.1 l-2.1,-2.1 z" fill="#1e87f4"/><path d="M947.0,397.8 l2.1,2.1 l-2.1,2.1 l-2.1,-2.1 z" fill="#1e8ff4"/><path d="M952.0,394.0 l2.1,2.1 l-2.1,2.1 l-2.1,-2.1 z" fill="#1e97f4"/><path d="M957.0,390.3 l2.1,2.1 l-2.1,2.1 l-2.1,-2.1 z" fill="#1f9ff3"/><path d="M961.9,386.6 l2.1,2.1 l-2.1,2.1 l-2.1,-2.1 z" fill="#1fa7f3"/><path d="M966.8,383.0 l2.1,2.1 l-2.1,2.1 l-2.1,-2.1 z" fill="#1faff3"/><path d="M971.6,379.4 l2.1,2.1 l-2.1,2.1 l-2.1,-2.1 z" fill="#20b6f2"/><path d="M976.2,375.9 l2.1,2.1 l-2.1,2.1 l-2.1,-2.1 z" fill="#20bef2"/><path d="M980.7,372.6 l2.1,2.1 l-2.1,2.1 l-2.1,-2.1 z" fill="#21c5ef"/><path d="M985.1,369.3 l2.1,2.1 l-2.1,2.1 l-2.1,-2.1 z" fill="#23cbec"/><path d="M989.3,366.2 l2.1,2.1 l-2.1,2.1 l-2.1,-2.1 z" fill="#24d0e8"/><path d="M993.3,363.2 l2.1,2.1 l-2.1,2.1 l-2.1,-2.1 z" fill="#25d6e4"/><path d="M997.1,360.3 l2.1,2.1 l-2.1,2.1 l-2.1,-2.1 z" fill="#27dce1"/><path d="M1000.7,357.6 l2.1,2.1 l-2.1,2.1 l-2.1,-2.1 z" fill="#28e1db"/><path d="M1004.0,355.1 l2.1,2.1 l-2.1,2.1 l-2.1,-2.1 z" fill="#2ae3ce"/><path d="M1007.1,352.8 l2.1,2.1 l-2.1,2.1 l-2.1,-2.1 z" fill="#2ce5c1"/><path d="M1010.0,350.7 l2.1,2.1 l-2.1,2.1 l-2.1,-2.1 z" fill="#2ee6b4"/><path d="M1012.5,348.8 l2.1,2.1 l-2.1,2.1 l-2.1,-2.1 z" fill="#30e8a7"/><path d="M1014.8,347.0 l2.1,2.1 l-2.1,2.1 l-2.1,-2.1 z" fill="#31e99a"/><path d="M1016.8,345.5 l2.1,2.1 l-2.1,2.1 l-2.1,-2.1 z" fill="#30ea89"/><path d="M1018.6,344.3 l2.1,2.1 l-2.1,2.1 l-2.1,-2.1 z" fill="#2dea75"/><path d="M1020.0,343.2 l2.1,2.1 l-2.1,2.1 l-2.1,-2.1 z" fill="#2aea61"/><path d="M1021.1,342.4 l2.1,2.1 l-2.1,2.1 l-2.1,-2.1 z" fill="#27ea4d"/><path d="M1021.9,341.8 l2.1,2.1 l-2.1,2.1 l-2.1,-2.1 z" fill="#25ea3a"/><path d="M1022.3,341.4 l2.1,2.1 l-2.1,2.1 l-2.1,-2.1 z" fill="#24ea28"/><path d="M1022.5,341.3 l2.1,2.1 l-2.1,2.1 l-2.1,-2.1 z" fill="#35ea26"/><path d="M1022.3,341.4 l2.1,2.1 l-2.1,2.1 l-2.1,-2.1 z" fill="#46ea23"/><path d="M1021.9,341.8 l2.1,2.1 l-2.1,2.1 l-2.1,-2.1 z" fill="#57ea21"/><path d="M1021.1,342.4 l2.1,2.1 l-2.1,2.1 l-2.1,-2.1 z" fill="#68ea1f"/><path d="M1020.0,343.2 l2.1,2.1 l-2.1,2.1 l-2.1,-2.1 z" fill="#7aea1f"/><path d="M1018.6,344.3 l2.1,2.1 l-2.1,2.1 l-2.1,-2.1 z" fill="#8cea20"/><path d="M1016.8,345.5 l2.1,2.1 l-2.1,2.1 l-2.1,-2.1 z" fill="#9eea20"/><path d="M1014.8,347.0 l2.1,2.1 l-2.1,2.1 l-2.1,-2.1 z" fill="#b0ea21"/><path d="M1012.5,348.8 l2.1,2.1 l-2.1,2.1 l-2.1,-2.1 z" fill="#c0ea22"/><path d="M1010.0,350.7 l2.1,2.1 l-2.1,2.1 l-2.1,-2.1 z" fill="#cbe824"/><path d="M1007.1,352.8 l2.1,2.1 l-2.1,2.1 l-2.1,-2.1 z" fill="#d6e625"/><path d="M1004.0,355.1 l2.1,2.1 l-2.1,2.1 l-2.1,-2.1 z" fill="#e1e426"/><path d="M1000.7,357.6 l2.1,2.1 l-2.1,2.1 l-2.1,-2.1 z" fill="#ece228"/><path d="M997.1,360.3 l2.1,2.1 l-2.1,2.1 l-2.1,-2.1 z" fill="#efdd28"/><path d="M993.3,363.2 l2.1,2.1 l-2.1,2.1 l-2.1,-2.1 z" fill="#f0d727"/><path d="M989.3,366.2 l2.1,2.1 l-2.1,2.1 l-2.1,-2.1 z" fill="#f0d026"/><path d="M985.1,369.3 l2.1,2.1 l-2.1,2.1 l-2.1,-2.1 z" fill="#f1ca26"/><path d="M980.7,372.6 l2.1,2.1 l-2.1,2.1 l-2.1,-2.1 z" fill="#f2c425"/><path d="M976.2,375.9 l2.1,2.1 l-2.1,2.1 l-2.1,-2.1 z" fill="#f3be25"/><path d="M971.6,379.4 l2.1,2.1 l-2.1,2.1 l-2.1,-2.1 z" fill="#f4b724"/><path d="M966.8,383.0 l2.1,2.1 l-2.1,2.1 l-2.1,-2.1 z" fill="#f4b024"/><path d="M961.9,386.6 l2.1,2.1 l-2.1,2.1 l-2.1,-2.1 z" fill="#f4a824"/><path d="M957.0,390.3 l2.1,2.1 l-2.1,2.1 l-2.1,-2.1 z" fill="#f4a124"/><path d="M952.0,394.0 l2.1,2.1 l-2.1,2.1 l-2.1,-2.1 z" fill="#f49924"/><path d="M947.0,397.8 l2.1,2.1 l-2.1,2.1 l-2.1,-2.1 z" fill="#f49224"/><path d="M941.9,401.6 l2.1,2.1 l-2.1,2.1 l-2.1,-2.1 z" fill="#f48a24"/><path d="M936.8,405.4 l2.1,2.1 l-2.1,2.1 l-2.1,-2.1 z" fill="#f48324"/><path d="M931.8,409.2 l2.1,2.1 l-2.1,2.1 l-2.1,-2.1 z" fill="#f47c24"/><path d="M926.8,412.9 l2.1,2.1 l-2.1,2.1 l-2.1,-2.1 z" fill="#f37524"/><path d="M921.9,416.6 l2.1,2.1 l-2.1,2.1 l-2.1,-2.1 z" fill="#f36e24"/><path d="M917.0,420.2 l2.1,2.1 l-2.1,2.1 l-2.1,-2.1 z" fill="#f36724"/><path d="M912.2,423.8 l2.1,2.1 l-2.1,2.1 l-2.1,-2.1 z" fill="#f26024"/><path d="M907.6,427.3 l2.1,2.1 l-2.1,2.1 l-2.1,-2.1 z" fill="#f25a24"/><path d="M903.1,430.6 l2.1,2.1 l-2.1,2.1 l-2.1,-2.1 z" fill="#f15223"/><path d="M898.7,433.9 l2.1,2.1 l-2.1,2.1 l-2.1,-2.1 z" fill="#f14a22"/><path d="M894.5,437.0 l2.1,2.1 l-2.1,2.1 l-2.1,-2.1 z" fill="#f04221"/><path d="M890.5,440.0 l2.1,2.1 l-2.1,2.1 l-2.1,-2.1 z" fill="#ef3a20"/><path d="M886.7,442.9 l2.1,2.1 l-2.1,2.1 l-2.1,-2.1 z" fill="#ef321f"/><path d="M883.1,445.6 l2.1,2.1 l-2.1,2.1 l-2.1,-2.1 z" fill="#ee2b1e"/><path d="M879.8,448.1 l2.1,2.1 l-2.1,2.1 l-2.1,-2.1 z" fill="#ec241e"/><path d="M876.7,450.4 l2.1,2.1 l-2.1,2.1 l-2.1,-2.1 z" fill="#ea1d1e"/><path d="M873.8,452.5 l2.1,2.1 l-2.1,2.1 l-2.1,-2.1 z" fill="#e8171e"/><path d="M871.3,454.4 l2.1,2.1 l-2.1,2.1 l-2.1,-2.1 z" fill="#d7144a"/><path d="M869.0,456.2 l2.1,2.1 l-2.1,2.1 l-2.1,-2.1 z" fill="#c4117c"/><path d="M867.0,457.7 l2.1,2.1 l-2.1,2.1 l-2.1,-2.1 z" fill="#af0eaa"/><path d="M865.2,458.9 l2.1,2.1 l-2.1,2.1 l-2.1,-2.1 z" fill="#980cd7"/><path d="M863.8,460.0 l2.1,2.1 l-2.1,2.1 l-2.1,-2.1 z" fill="#8b0af1"/><path d="M862.7,460.8 l2.1,2.1 l-2.1,2.1 l-2.1,-2.1 z" fill="#890af3"/><path d="M861.9,461.4 l2.1,2.1 l-2.1,2.1 l-2.1,-2.1 z" fill="#880af6"/><path d="M861.5,461.8 l2.1,2.1 l-2.1,2.1 l-2.1,-2.1 z" fill="#860af8"/><path d="M861.3,461.9 l2.1,2.1 l-2.1,2.1 l-2.1,-2.1 z" fill="#840afa"/><polygon points="880.2,461.9 880.7,463.3 882.2,463.4 881.0,464.3 881.4,465.7 880.2,464.9 878.9,465.7 879.3,464.3 878.2,463.4 879.6,463.3" fill="#840afa"/><polygon points="877.0,461.8 877.6,463.2 879.0,463.2 877.9,464.2 878.3,465.6 877.0,464.8 875.8,465.6 876.2,464.2 875.0,463.2 876.5,463.2" fill="#800bf9"/><polygon points="874.2,461.4 874.7,462.8 876.1,462.9 875.0,463.8 875.4,465.2 874.2,464.4 872.9,465.2 873.3,463.8 872.2,462.9 873.6,462.8" fill="#7d0cf8"/><polygon points="871.5,460.8 872.1,462.2 873.5,462.3 872.4,463.2 872.8,464.6 871.5,463.8 870.3,464.6 870.7,463.2 869.5,462.3 871.0,462.2" fill="#790df7"/><polygon points="869.2,460.0 869.7,461.4 871.2,461.5 870.1,462.4 870.4,463.8 869.2,463.0 868.0,463.8 868.4,462.4 867.2,461.5 868.7,461.4" fill="#760ef6"/><polygon points="867.2,458.9 867.7,460.3 869.2,460.4 868.0,461.3 868.4,462.7 867.2,461.9 865.9,462.7 866.3,461.3 865.2,460.4 866.6,460.3" fill="#720ff6"/><polygon points="865.4,457.7 865.9,459.0 867.4,459.1 866.3,460.0 866.7,461.5 865.4,460.7 864.2,461.5 864.6,460.0 863.4,459.1 864.9,459.0" fill="#6d11f4"/><polygon points="864.0,456.2 864.5,457.5 866.0,457.6 864.8,458.5 865.2,460.0 864.0,459.2 862.7,460.0 863.1,458.5 862.0,457.6 863.4,457.5" fill="#6513f3"/><polygon points="862.8,454.4 863.4,455.8 864.8,455.9 863.7,456.8 864.1,458.2 862.8,457.4 861.6,458.2 862.0,456.8 860.8,455.9 862.3,455.8" fill="#5e15f1"/><polygon points="862.0,452.5 862.5,453.9 864.0,454.0 862.9,454.9 863.2,456.3 862.0,455.5 860.8,456.3 861.2,454.9 860.0,454.0 861.5,453.9" fill="#5617f0"/><polygon points="861.5,450.4 862.0,451.8 863.5,451.8 862.4,452.8 862.7,454.2 861.5,453.4 860.3,454.2 860.6,452.8 859.5,451.8 861.0,451.8" fill="#4f19ee"/><polygon points="861.3,448.1 861.8,449.4 863.3,449.5 862.2,450.4 862.5,451.9 861.3,451.1 860.1,451.9 860.4,450.4 859.3,449.5 860.8,449.4" fill="#471bed"/><polygon points="861.4,445.6 862.0,446.9 863.4,447.0 862.3,447.9 862.7,449.4 861.4,448.6 860.2,449.4 860.6,447.9 859.4,447.0 860.9,446.9" fill="#401eeb"/><polygon points="861.9,442.9 862.4,444.3 863.9,444.3 862.7,445.3 863.1,446.7 861.9,445.9 860.6,446.7 861.0,445.3 859.9,444.3 861.3,444.3" fill="#3b24eb"/><polygon points="862.6,440.0 863.2,441.4 864.6,441.5 863.5,442.4 863.9,443.8 862.6,443.0 861.4,443.8 861.8,442.4 860.6,441.5 862.1,441.4" fill="#372bec"/><polygon points="863.7,437.0 864.2,438.4 865.7,438.5 864.6,439.4 864.9,440.8 863.7,440.0 862.5,440.8 862.8,439.4 861.7,438.5 863.2,438.4" fill="#3233ec"/><polygon points="865.1,433.9 865.6,435.3 867.1,435.4 865.9,436.3 866.3,437.7 865.1,436.9 863.8,437.7 864.2,436.3 863.1,435.4 864.5,435.3" fill="#2e3aed"/><polygon points="866.8,430.6 867.3,432.0 868.8,432.1 867.6,433.0 868.0,434.4 866.8,433.6 865.5,434.4 865.9,433.0 864.8,432.1 866.2,432.0" fill="#2a42ed"/><polygon points="868.7,427.3 869.3,428.6 870.7,428.7 869.6,429.7 870.0,431.1 868.7,430.3 867.5,431.1 867.9,429.7 866.7,428.7 868.2,428.6" fill="#2649ee"/><polygon points="871.0,423.8 871.5,425.2 873.0,425.2 871.9,426.2 872.2,427.6 871.0,426.8 869.8,427.6 870.1,426.2 869.0,425.2 870.5,425.2" fill="#2251ee"/><polygon points="873.5,420.2 874.1,421.6 875.5,421.7 874.4,422.6 874.8,424.0 873.5,423.2 872.3,424.0 872.7,422.6 871.6,421.7 873.0,421.6" fill="#215aef"/><polygon points="876.4,416.6 876.9,418.0 878.4,418.0 877.2,419.0 877.6,420.4 876.4,419.6 875.1,420.4 875.5,419.0 874.4,418.0 875.8,418.0" fill="#2163f0"/><polygon points="879.4,412.9 880.0,414.3 881.4,414.4 880.3,415.3 880.7,416.7 879.4,415.9 878.2,416.7 878.6,415.3 877.4,414.4 878.9,414.3" fill="#206cf1"/><polygon points="882.8,409.2 883.3,410.5 884.8,410.6 883.6,411.5 884.0,413.0 882.8,412.2 881.5,413.0 881.9,411.5 880.8,410.6 882.2,410.5" fill="#2075f2"/><polygon points="886.3,405.4 886.8,406.8 888.3,406.8 887.2,407.8 887.6,409.2 886.3,408.4 885.1,409.2 885.5,407.8 884.3,406.8 885.8,406.8" fill="#1f7ef3"/><polygon points="890.1,401.6 890.6,403.0 892.1,403.1 890.9,404.0 891.3,405.4 890.1,404.6 888.9,405.4 889.2,404.0 888.1,403.1 889.6,403.0" fill="#1e87f4"/><polygon points="894.1,397.8 894.6,399.2 896.1,399.3 894.9,400.2 895.3,401.6 894.1,400.8 892.8,401.6 893.2,400.2 892.1,399.3 893.5,399.2" fill="#1e8ff4"/><polygon points="898.2,394.0 898.8,395.4 900.2,395.5 899.1,396.4 899.5,397.8 898.2,397.0 897.0,397.8 897.4,396.4 896.2,395.5 897.7,395.4" fill="#1e97f4"/><polygon points="902.6,390.3 903.1,391.7 904.6,391.8 903.4,392.7 903.8,394.1 902.6,393.3 901.3,394.1 901.7,392.7 900.6,391.8 902.0,391.7" fill="#1f9ff3"/><polygon points="907.1,386.6 907.6,388.0 909.1,388.1 907.9,389.0 908.3,390.4 907.1,389.6 905.8,390.4 906.2,389.0 905.1,388.1 906.5,388.0" fill="#1fa7f3"/><polygon points="911.7,383.0 912.2,384.3 913.7,384.4 912.6,385.3 912.9,386.8 911.7,386.0 910.5,386.8 910.9,385.3 909.7,384.4 911.2,384.3" fill="#1faff3"/><polygon points="916.5,379.4 917.0,380.8 918.5,380.9 917.3,381.8 917.7,383.2 916.5,382.4 915.2,383.2 915.6,381.8 914.5,380.9 915.9,380.8" fill="#20b6f2"/><polygon points="921.3,375.9 921.8,377.3 923.3,377.4 922.2,378.3 922.5,379.7 921.3,378.9 920.1,379.7 920.5,378.3 919.3,377.4 920.8,377.3" fill="#20bef2"/><polygon points="926.2,372.6 926.8,373.9 928.2,374.0 927.1,374.9 927.5,376.3 926.2,375.6 925.0,376.3 925.4,374.9 924.2,374.0 925.7,373.9" fill="#21c5ef"/><polygon points="931.2,369.3 931.8,370.7 933.2,370.7 932.1,371.7 932.5,373.1 931.2,372.3 930.0,373.1 930.4,371.7 929.2,370.7 930.7,370.7" fill="#23cbec"/><polygon points="936.3,366.2 936.8,367.5 938.3,367.6 937.1,368.5 937.5,370.0 936.3,369.2 935.0,370.0 935.4,368.5 934.3,367.6 935.7,367.5" fill="#24d0e8"/><polygon points="941.3,363.2 941.9,364.5 943.3,364.6 942.2,365.5 942.6,367.0 941.3,366.2 940.1,367.0 940.5,365.5 939.3,364.6 940.8,364.5" fill="#25d6e4"/><polygon points="946.4,360.3 946.9,361.7 948.4,361.8 947.3,362.7 947.6,364.1 946.4,363.3 945.2,364.1 945.5,362.7 944.4,361.8 945.9,361.7" fill="#27dce1"/><polygon points="951.4,357.6 952.0,359.0 953.4,359.1 952.3,360.0 952.7,361.4 951.4,360.6 950.2,361.4 950.6,360.0 949.4,359.1 950.9,359.0" fill="#28e1db"/><polygon points="956.4,355.1 957.0,356.5 958.4,356.6 957.3,357.5 957.7,358.9 956.4,358.1 955.2,358.9 955.6,357.5 954.5,356.6 955.9,356.5" fill="#2ae3ce"/><polygon points="961.4,352.8 961.9,354.2 963.4,354.3 962.3,355.2 962.6,356.6 961.4,355.8 960.2,356.6 960.5,355.2 959.4,354.3 960.9,354.2" fill="#2ce5c1"/><polygon points="966.3,350.7 966.8,352.1 968.3,352.1 967.1,353.1 967.5,354.5 966.3,353.7 965.0,354.5 965.4,353.1 964.3,352.1 965.7,352.1" fill="#2ee6b4"/><polygon points="971.0,348.8 971.6,350.1 973.0,350.2 971.9,351.1 972.3,352.6 971.0,351.8 969.8,352.6 970.2,351.1 969.0,350.2 970.5,350.1" fill="#30e8a7"/><polygon points="975.7,347.0 976.2,348.4 977.7,348.5 976.6,349.4 976.9,350.8 975.7,350.0 974.5,350.8 974.9,349.4 973.7,348.5 975.2,348.4" fill="#31e99a"/><polygon points="980.2,345.5 980.8,346.9 982.2,347.0 981.1,347.9 981.5,349.3 980.2,348.5 979.0,349.3 979.4,347.9 978.2,347.0 979.7,346.9" fill="#30ea89"/><polygon points="984.6,344.3 985.1,345.6 986.6,345.7 985.5,346.6 985.8,348.1 984.6,347.3 983.4,348.1 983.8,346.6 982.6,345.7 984.1,345.6" fill="#2dea75"/><polygon points="988.8,343.2 989.3,344.6 990.8,344.6 989.7,345.6 990.1,347.0 988.8,346.2 987.6,347.0 988.0,345.6 986.8,344.6 988.3,344.6" fill="#2aea61"/><polygon points="992.8,342.4 993.4,343.7 994.8,343.8 993.7,344.7 994.1,346.2 992.8,345.4 991.6,346.2 992.0,344.7 990.8,343.8 992.3,343.7" fill="#27ea4d"/><polygon points="996.7,341.8 997.2,343.1 998.7,343.2 997.5,344.2 997.9,345.6 996.7,344.8 995.4,345.6 995.8,344.2 994.7,343.2 996.1,343.1" fill="#25ea3a"/><polygon points="1000.3,341.4 1000.8,342.8 1002.3,342.9 1001.1,343.8 1001.5,345.2 1000.3,344.4 999.0,345.2 999.4,343.8 998.3,342.9 999.7,342.8" fill="#24ea28"/><polygon points="1003.6,341.3 1004.2,342.7 1005.6,342.8 1004.5,343.7 1004.9,345.1 1003.6,344.3 1002.4,345.1 1002.8,343.7 1001.6,342.8 1003.1,342.7" fill="#35ea26"/><polygon points="1006.8,341.4 1007.3,342.8 1008.8,342.9 1007.6,343.8 1008.0,345.2 1006.8,344.4 1005.5,345.2 1005.9,343.8 1004.8,342.9 1006.2,342.8" fill="#46ea23"/><polygon points="1009.6,341.8 1010.2,343.1 1011.6,343.2 1010.5,344.2 1010.9,345.6 1009.6,344.8 1008.4,345.6 1008.8,344.2 1007.7,343.2 1009.1,343.1" fill="#57ea21"/><polygon points="1012.3,342.4 1012.8,343.7 1014.3,343.8 1013.1,344.7 1013.5,346.2 1012.3,345.4 1011.0,346.2 1011.4,344.7 1010.3,343.8 1011.7,343.7" fill="#68ea1f"/><polygon points="1014.6,343.2 1015.1,344.6 1016.6,344.6 1015.4,345.6 1015.8,347.0 1014.6,346.2 1013.4,347.0 1013.7,345.6 1012.6,344.6 1014.1,344.6" fill="#7aea1f"/><polygon points="1016.6,344.3 1017.2,345.6 1018.6,345.7 1017.5,346.6 1017.9,348.1 1016.6,347.3 1015.4,348.1 1015.8,346.6 1014.6,345.7 1016.1,345.6" fill="#8cea20"/><polygon points="1018.4,345.5 1018.9,346.9 1020.4,347.0 1019.2,347.9 1019.6,349.3 1018.4,348.5 1017.1,349.3 1017.5,347.9 1016.4,347.0 1017.9,346.9" fill="#9eea20"/><polygon points="1019.8,347.0 1020.4,348.4 1021.8,348.5 1020.7,349.4 1021.1,350.8 1019.8,350.0 1018.6,350.8 1019.0,349.4 1017.8,348.5 1019.3,348.4" fill="#b0ea21"/><polygon points="1021.0,348.8 1021.5,350.1 1023.0,350.2 1021.8,351.1 1022.2,352.6 1021.0,351.8 1019.7,352.6 1020.1,351.1 1019.0,350.2 1020.4,350.1" fill="#c0ea22"/><polygon points="1021.8,350.7 1022.3,352.1 1023.8,352.1 1022.6,353.1 1023.0,354.5 1021.8,353.7 1020.6,354.5 1020.9,353.1 1019.8,352.1 1021.3,352.1" fill="#cbe824"/><polygon points="1022.3,352.8 1022.8,354.2 1024.3,354.3 1023.2,355.2 1023.5,356.6 1022.3,355.8 1021.1,356.6 1021.4,355.2 1020.3,354.3 1021.8,354.2" fill="#d6e625"/><polygon points="1022.5,355.1 1023.0,356.5 1024.5,356.6 1023.4,357.5 1023.7,358.9 1022.5,358.1 1021.3,358.9 1021.6,357.5 1020.5,356.6 1022.0,356.5" fill="#e1e426"/><polygon points="1022.4,357.6 1022.9,359.0 1024.4,359.1 1023.2,360.0 1023.6,361.4 1022.4,360.6 1021.1,361.4 1021.5,360.0 1020.4,359.1 1021.8,359.0" fill="#ece228"/><polygon points="1021.9,360.3 1022.5,361.7 1023.9,361.8 1022.8,362.7 1023.2,364.1 1021.9,363.3 1020.7,364.1 1021.1,362.7 1019.9,361.8 1021.4,361.7" fill="#efdd28"/><polygon points="1021.2,363.2 1021.7,364.5 1023.2,364.6 1022.0,365.5 1022.4,367.0 1021.2,366.2 1019.9,367.0 1020.3,365.5 1019.2,364.6 1020.6,364.5" fill="#f0d727"/><polygon points="1020.1,366.2 1020.6,367.5 1022.1,367.6 1021.0,368.5 1021.3,370.0 1020.1,369.2 1018.9,370.0 1019.2,368.5 1018.1,367.6 1019.6,367.5" fill="#f0d026"/><polygon points="1018.7,369.3 1019.3,370.7 1020.7,370.7 1019.6,371.7 1020.0,373.1 1018.7,372.3 1017.5,373.1 1017.9,371.7 1016.7,370.7 1018.2,370.7" fill="#f1ca26"/><polygon points="1017.0,372.6 1017.6,373.9 1019.0,374.0 1017.9,374.9 1018.3,376.3 1017.0,375.6 1015.8,376.3 1016.2,374.9 1015.0,374.0 1016.5,373.9" fill="#f2c425"/><polygon points="1015.1,375.9 1015.6,377.3 1017.1,377.4 1015.9,378.3 1016.3,379.7 1015.1,378.9 1013.8,379.7 1014.2,378.3 1013.1,377.4 1014.5,377.3" fill="#f3be25"/><polygon points="1012.8,379.4 1013.3,380.8 1014.8,380.9 1013.7,381.8 1014.0,383.2 1012.8,382.4 1011.6,383.2 1011.9,381.8 1010.8,380.9 1012.3,380.8" fill="#f4b724"/><polygon points="1010.3,383.0 1010.8,384.3 1012.2,384.4 1011.1,385.3 1011.5,386.8 1010.3,386.0 1009.0,386.8 1009.4,385.3 1008.3,384.4 1009.7,384.3" fill="#f4b024"/><polygon points="1007.4,386.6 1008.0,388.0 1009.4,388.1 1008.3,389.0 1008.7,390.4 1007.4,389.6 1006.2,390.4 1006.6,389.0 1005.4,388.1 1006.9,388.0" fill="#f4a824"/><polygon points="1004.4,390.3 1004.9,391.7 1006.4,391.8 1005.2,392.7 1005.6,394.1 1004.4,393.3 1003.1,394.1 1003.5,392.7 1002.4,391.8 1003.8,391.7" fill="#f4a124"/><polygon points="1001.0,394.0 1001.6,395.4 1003.0,395.5 1001.9,396.4 1002.3,397.8 1001.0,397.0 999.8,397.8 1000.2,396.4 999.0,395.5 1000.5,395.4" fill="#f49924"/><polygon points="997.5,397.8 998.0,399.2 999.5,399.3 998.3,400.2 998.7,401.6 997.5,400.8 996.2,401.6 996.6,400.2 995.5,399.3 997.0,399.2" fill="#f49224"/><polygon points="993.7,401.6 994.2,403.0 995.7,403.1 994.6,404.0 994.9,405.4 993.7,404.6 992.5,405.4 992.9,404.0 991.7,403.1 993.2,403.0" fill="#f48a24"/><polygon points="989.7,405.4 990.3,406.8 991.7,406.8 990.6,407.8 991.0,409.2 989.7,408.4 988.5,409.2 988.9,407.8 987.7,406.8 989.2,406.8" fill="#f48324"/><polygon points="985.6,409.2 986.1,410.5 987.6,410.6 986.4,411.5 986.8,413.0 985.6,412.2 984.3,413.0 984.7,411.5 983.6,410.6 985.0,410.5" fill="#f47c24"/><polygon points="981.2,412.9 981.8,414.3 983.2,414.4 982.1,415.3 982.5,416.7 981.2,415.9 980.0,416.7 980.4,415.3 979.2,414.4 980.7,414.3" fill="#f37524"/><polygon points="976.7,416.6 977.3,418.0 978.7,418.0 977.6,419.0 978.0,420.4 976.7,419.6 975.5,420.4 975.9,419.0 974.7,418.0 976.2,418.0" fill="#f36e24"/><polygon points="972.1,420.2 972.6,421.6 974.1,421.7 972.9,422.6 973.3,424.0 972.1,423.2 970.9,424.0 971.2,422.6 970.1,421.7 971.6,421.6" fill="#f36724"/><polygon points="967.3,423.8 967.9,425.2 969.3,425.2 968.2,426.2 968.6,427.6 967.3,426.8 966.1,427.6 966.5,426.2 965.3,425.2 966.8,425.2" fill="#f26024"/><polygon points="962.5,427.3 963.0,428.6 964.5,428.7 963.3,429.7 963.7,431.1 962.5,430.3 961.3,431.1 961.6,429.7 960.5,428.7 962.0,428.6" fill="#f25a24"/><polygon points="957.6,430.6 958.1,432.0 959.6,432.1 958.4,433.0 958.8,434.4 957.6,433.6 956.3,434.4 956.7,433.0 955.6,432.1 957.0,432.0" fill="#f15223"/><polygon points="952.6,433.9 953.1,435.3 954.6,435.4 953.4,436.3 953.8,437.7 952.6,436.9 951.3,437.7 951.7,436.3 950.6,435.4 952.0,435.3" fill="#f14a22"/><polygon points="947.5,437.0 948.1,438.4 949.5,438.5 948.4,439.4 948.8,440.8 947.5,440.0 946.3,440.8 946.7,439.4 945.5,438.5 947.0,438.4" fill="#f04221"/><polygon points="942.5,440.0 943.0,441.4 944.5,441.5 943.3,442.4 943.7,443.8 942.5,443.0 941.2,443.8 941.6,442.4 940.5,441.5 941.9,441.4" fill="#ef3a20"/><polygon points="937.4,442.9 937.9,444.3 939.4,444.3 938.3,445.3 938.6,446.7 937.4,445.9 936.2,446.7 936.5,445.3 935.4,444.3 936.9,444.3" fill="#ef321f"/><polygon points="932.4,445.6 932.9,446.9 934.4,447.0 933.2,447.9 933.6,449.4 932.4,448.6 931.1,449.4 931.5,447.9 930.4,447.0 931.8,446.9" fill="#ee2b1e"/><polygon points="927.4,448.1 927.9,449.4 929.3,449.5 928.2,450.4 928.6,451.9 927.4,451.1 926.1,451.9 926.5,450.4 925.4,449.5 926.8,449.4" fill="#ec241e"/><polygon points="922.4,450.4 922.9,451.8 924.4,451.8 923.3,452.8 923.6,454.2 922.4,453.4 921.2,454.2 921.5,452.8 920.4,451.8 921.9,451.8" fill="#ea1d1e"/><polygon points="917.5,452.5 918.1,453.9 919.5,454.0 918.4,454.9 918.8,456.3 917.5,455.5 916.3,456.3 916.7,454.9 915.5,454.0 917.0,453.9" fill="#e8171e"/><polygon points="912.8,454.4 913.3,455.8 914.8,455.9 913.6,456.8 914.0,458.2 912.8,457.4 911.5,458.2 911.9,456.8 910.8,455.9 912.2,455.8" fill="#d7144a"/><polygon points="908.1,456.2 908.6,457.5 910.1,457.6 908.9,458.5 909.3,460.0 908.1,459.2 906.9,460.0 907.2,458.5 906.1,457.6 907.6,457.5" fill="#c4117c"/><polygon points="903.6,457.7 904.1,459.0 905.6,459.1 904.4,460.0 904.8,461.5 903.6,460.7 902.3,461.5 902.7,460.0 901.6,459.1 903.0,459.0" fill="#af0eaa"/><polygon points="899.2,458.9 899.7,460.3 901.2,460.4 900.0,461.3 900.4,462.7 899.2,461.9 898.0,462.7 898.3,461.3 897.2,460.4 898.7,460.3" fill="#980cd7"/><polygon points="895.0,460.0 895.5,461.4 897.0,461.5 895.8,462.4 896.2,463.8 895.0,463.0 893.7,463.8 894.1,462.4 893.0,461.5 894.5,461.4" fill="#8b0af1"/><polygon points="891.0,460.8 891.5,462.2 893.0,462.3 891.8,463.2 892.2,464.6 891.0,463.8 889.7,464.6 890.1,463.2 889.0,462.3 890.4,462.2" fill="#890af3"/><polygon points="887.1,461.4 887.7,462.8 889.1,462.9 888.0,463.8 888.4,465.2 887.1,464.4 885.9,465.2 886.3,463.8 885.1,462.9 886.6,462.8" fill="#880af6"/><polygon points="883.5,461.8 884.1,463.2 885.5,463.2 884.4,464.2 884.8,465.6 883.5,464.8 882.3,465.6 882.7,464.2 881.5,463.2 883.0,463.2" fill="#860af8"/><polygon points="880.2,461.9 880.7,463.3 882.2,463.4 881.0,464.3 881.4,465.7 880.2,464.9 878.9,465.7 879.3,464.3 878.2,463.4 879.6,463.3" fill="#840afa"/><circle cx="955.9" cy="464.0" r="1.6" fill="#840afa"/><circle cx="950.9" cy="463.9" r="1.6" fill="#800bf9"/><circle cx="945.8" cy="463.5" r="1.6" fill="#7d0cf8"/><circle cx="940.8" cy="462.9" r="1.6" fill="#790df7"/><circle cx="935.7" cy="462.1" r="1.6" fill="#760ef6"/><circle cx="930.7" cy="461.0" r="1.6" fill="#720ff6"/><circle cx="925.7" cy="459.8" r="1.6" fill="#6d11f4"/><circle cx="920.8" cy="458.3" r="1.6" fill="#6513f3"/><circle cx="915.9" cy="456.5" r="1.6" fill="#5e15f1"/><circle cx="911.2" cy="454.6" r="1.6" fill="#5617f0"/><circle cx="906.6" cy="452.5" r="1.6" fill="#4f19ee"/><circle cx="902.1" cy="450.2" r="1.6" fill="#471bed"/><circle cx="897.8" cy="447.7" r="1.6" fill="#401eeb"/><circle cx="893.6" cy="445.0" r="1.6" fill="#3b24eb"/><circle cx="889.7" cy="442.1" r="1.6" fill="#372bec"/><circle cx="885.9" cy="439.1" r="1.6" fill="#3233ec"/><circle cx="882.4" cy="436.0" r="1.6" fill="#2e3aed"/><circle cx="879.1" cy="432.7" r="1.6" fill="#2a42ed"/><circle cx="876.0" cy="429.4" r="1.6" fill="#2649ee"/><circle cx="873.3" cy="425.9" r="1.6" fill="#2251ee"/><circle cx="870.7" cy="422.3" r="1.6" fill="#215aef"/><circle cx="868.5" cy="418.7" r="1.6" fill="#2163f0"/><circle cx="866.6" cy="415.0" r="1.6" fill="#206cf1"/><circle cx="864.9" cy="411.3" r="1.6" fill="#2075f2"/><circle cx="863.6" cy="407.5" r="1.6" fill="#1f7ef3"/><circle cx="862.5" cy="403.7" r="1.6" fill="#1e87f4"/><circle cx="861.8" cy="399.9" r="1.6" fill="#1e8ff4"/><circle cx="861.4" cy="396.1" r="1.6" fill="#1e97f4"/><circle cx="861.3" cy="392.4" r="1.6" fill="#1f9ff3"/><circle cx="861.5" cy="388.7" r="1.6" fill="#1fa7f3"/><circle cx="862.1" cy="385.1" r="1.6" fill="#1faff3"/><circle cx="862.9" cy="381.5" r="1.6" fill="#20b6f2"/><circle cx="864.1" cy="378.0" r="1.6" fill="#20bef2"/><circle cx="865.6" cy="374.7" r="1.6" fill="#21c5ef"/><circle cx="867.4" cy="371.4" r="1.6" fill="#23cbec"/><circle cx="869.5" cy="368.3" r="1.6" fill="#24d0e8"/><circle cx="871.8" cy="365.3" r="1.6" fill="#25d6e4"/><circle cx="874.5" cy="362.4" r="1.6" fill="#27dce1"/><circle cx="877.4" cy="359.7" r="1.6" fill="#28e1db"/><circle cx="880.5" cy="357.2" r="1.6" fill="#2ae3ce"/><circle cx="883.9" cy="354.9" r="1.6" fill="#2ce5c1"/><circle cx="887.6" cy="352.8" r="1.6" fill="#2ee6b4"/><circle cx="891.4" cy="350.9" r="1.6" fill="#30e8a7"/><circle cx="895.4" cy="349.1" r="1.6" fill="#31e99a"/><circle cx="899.7" cy="347.6" r="1.6" fill="#30ea89"/><circle cx="904.1" cy="346.4" r="1.6" fill="#2dea75"/><circle cx="908.6" cy="345.3" r="1.6" fill="#2aea61"/><circle cx="913.3" cy="344.5" r="1.6" fill="#27ea4d"/><circle cx="918.1" cy="343.9" r="1.6" fill="#25ea3a"/><circle cx="922.9" cy="343.5" r="1.6" fill="#24ea28"/><circle cx="927.9" cy="343.4" r="1.6" fill="#35ea26"/><circle cx="932.9" cy="343.5" r="1.6" fill="#46ea23"/><circle cx="938.0" cy="343.9" r="1.6" fill="#57ea21"/><circle cx="943.0" cy="344.5" r="1.6" fill="#68ea1f"/><circle cx="948.1" cy="345.3" r="1.6" fill="#7aea1f"/><circle cx="953.1" cy="346.4" r="1.6" fill="#8cea20"/><circle cx="958.1" cy="347.6" r="1.6" fill="#9eea20"/><circle cx="963.0" cy="349.1" r="1.6" fill="#b0ea21"/><circle cx="967.9" cy="350.9" r="1.6" fill="#c0ea22"/><circle cx="972.6" cy="352.8" r="1.6" fill="#cbe824"/><circle cx="977.2" cy="354.9" r="1.6" fill="#d6e625"/><circle cx="981.7" cy="357.2" r="1.6" fill="#e1e426"/><circle cx="986.0" cy="359.7" r="1.6" fill="#ece228"/><circle cx="990.2" cy="362.4" r="1.6" fill="#efdd28"/><circle cx="994.1" cy="365.3" r="1.6" fill="#f0d727"/><circle cx="997.9" cy="368.3" r="1.6" fill="#f0d026"/><circle cx="1001.4" cy="371.4" r="1.6" fill="#f1ca26"/><circle cx="1004.7" cy="374.7" r="1.6" fill="#f2c425"/><circle cx="1007.8" cy="378.0" r="1.6" fill="#f3be25"/><circle cx="1010.5" cy="381.5" r="1.6" fill="#f4b724"/><circle cx="1013.1" cy="385.1" r="1.6" fill="#f4b024"/><circle cx="1015.3" cy="388.7" r="1.6" fill="#f4a824"/><circle cx="1017.2" cy="392.4" r="1.6" fill="#f4a124"/><circle cx="1018.9" cy="396.1" r="1.6" fill="#f49924"/><circle cx="1020.2" cy="399.9" r="1.6" fill="#f49224"/><circle cx="1021.3" cy="403.7" r="1.6" fill="#f48a24"/><circle cx="1022.0" cy="407.5" r="1.6" fill="#f48324"/><circle cx="1022.4" cy="411.3" r="1.6" fill="#f47c24"/><circle cx="1022.5" cy="415.0" r="1.6" fill="#f37524"/><circle cx="1022.3" cy="418.7" r="1.6" fill="#f36e24"/><circle cx="1021.7" cy="422.3" r="1.6" fill="#f36724"/><circle cx="1020.9" cy="425.9" r="1.6" fill="#f26024"/><circle cx="1019.7" cy="429.4" r="1.6" fill="#f25a24"/><circle cx="1018.2" cy="432.7" r="1.6" fill="#f15223"/><circle cx="1016.4" cy="436.0" r="1.6" fill="#f14a22"/><circle cx="1014.3" cy="439.1" r="1.6" fill="#f04221"/><circle cx="1012.0" cy="442.1" r="1.6" fill="#ef3a20"/><circle cx="1009.3" cy="445.0" r="1.6" fill="#ef321f"/><circle cx="1006.4" cy="447.7" r="1.6" fill="#ee2b1e"/><circle cx="1003.3" cy="450.2" r="1.6" fill="#ec241e"/><circle cx="999.9" cy="452.5" r="1.6" fill="#ea1d1e"/><circle cx="996.2" cy="454.6" r="1.6" fill="#e8171e"/><circle cx="992.4" cy="456.5" r="1.6" fill="#d7144a"/><circle cx="988.4" cy="458.3" r="1.6" fill="#c4117c"/><circle cx="984.1" cy="459.8" r="1.6" fill="#af0eaa"/><circle cx="979.7" cy="461.0" r="1.6" fill="#980cd7"/><circle cx="975.2" cy="462.1" r="1.6" fill="#8b0af1"/><circle cx="970.5" cy="462.9" r="1.6" fill="#890af3"/><circle cx="965.7" cy="463.5" r="1.6" fill="#880af6"/><circle cx="960.9" cy="463.9" r="1.6" fill="#860af8"/><circle cx="955.9" cy="464.0" r="1.6" fill="#840afa"/></g>
<line x1="845.1" y1="331" x2="845.1" y2="477" stroke="#9a9a9a" stroke-width="1.6"/>
<line x1="1039.3" y1="331" x2="1039.3" y2="477" stroke="#aaaaaa" stroke-width="1.5"/>
<line x1="844.4" y1="331.6" x2="1040" y2="331.6" stroke="#5a5a5a" stroke-width="1"/>
<line x1="844.4" y1="476.5" x2="1040" y2="476.5" stroke="#3c3c3c" stroke-width="1"/>
<line x1="842.6" y1="343.4" x2="845" y2="343.4" stroke="#555" stroke-width="0.8"/>
<text x="841.2" y="347.1" font-size="11" text-anchor="end" fill="#222">0</text>
<line x1="842.6" y1="403.7" x2="845" y2="403.7" stroke="#555" stroke-width="0.8"/>
<text x="841.2" y="407.4" font-size="11" text-anchor="end" fill="#222">−1</text>
<line x1="842.6" y1="464.0" x2="845" y2="464.0" stroke="#555" stroke-width="0.8"/>
<text x="841.2" y="467.7" font-size="11" text-anchor="end" fill="#222">−2</text>
<line x1="843.6" y1="373.5" x2="845" y2="373.5" stroke="#777" stroke-width="0.7"/>
<line x1="843.6" y1="433.8" x2="845" y2="433.8" stroke="#777" stroke-width="0.7"/>
<line x1="861.3" y1="476.6" x2="861.3" y2="479" stroke="#555" stroke-width="0.8"/>
<text x="861.3" y="488.4" font-size="11" text-anchor="middle" fill="#222">0</text>
<line x1="941.9" y1="476.6" x2="941.9" y2="479" stroke="#555" stroke-width="0.8"/>
<text x="941.9" y="488.4" font-size="11" text-anchor="middle" fill="#222">1</text>
<line x1="1022.5" y1="476.6" x2="1022.5" y2="479" stroke="#555" stroke-width="0.8"/>
<text x="1022.5" y="488.4" font-size="11" text-anchor="middle" fill="#222">2</text>
<line x1="901.6" y1="476.6" x2="901.6" y2="478.2" stroke="#777" stroke-width="0.7"/>
<line x1="982.2" y1="476.6" x2="982.2" y2="478.2" stroke="#777" stroke-width="0.7"/>
<text x="879.3" y="501.3" font-size="12.65" fill="#111">Bottom photoresponse (a.u.)</text>
<text font-size="12.75" fill="#111" transform="translate(829.4,467.4) rotate(-90)">Top photoresponse (a.u.)</text>
<circle cx="1043.4" cy="334.3" r="2.3" fill="#5a12e2"/>
<text x="1048.4" y="336.9" font-size="7.6" fill="#333"><tspan font-style="italic">ψ</tspan> = 0°</text>
<rect x="1041.4" y="342.9" width="4" height="4" fill="#5a12e2"/>
<text x="1048.4" y="347.5" font-size="7.6" fill="#333"><tspan font-style="italic">ψ</tspan> = 20°</text>
<path d="M1043.4,352.59999999999997 l2.7,4.6 h-5.4 z" fill="#5a12e2"/>
<text x="1048.4" y="357.8" font-size="7.6" fill="#333"><tspan font-style="italic">ψ</tspan> = 50°</text>
<path d="M1043.4,363.3 l2.8,2.9 l-2.8,2.9 l-2.8,-2.9 z" fill="#5a12e2"/>
<text x="1048.4" y="368.8" font-size="7.6" fill="#333"><tspan font-style="italic">ψ</tspan> = 90°</text>
<polygon points="1043.4,373.7 1044.2,375.6 1046.3,375.8 1044.6,377.1 1045.2,379.1 1043.4,378.0 1041.6,379.1 1042.2,377.1 1040.5,375.8 1042.6,375.6" fill="#5a12e2"/>
<text x="1048.4" y="379.1" font-size="7.6" fill="#333"><tspan font-style="italic">ψ</tspan> = 110°</text>
<circle cx="1043.4" cy="387.1" r="2.3" fill="#5a12e2"/>
<text x="1048.4" y="389.7" font-size="7.6" fill="#333"><tspan font-style="italic">ψ</tspan> = 140°</text>
<text x="1041" y="400.4" font-size="6.6" fill="#777">AoLP − <tspan font-style="italic">θ</tspan> (°)</text>
<rect x="1042.3" y="403.9" width="9" height="72.4" fill="url(#cbar)"/>
<text x="1057.6" y="407.2" font-size="7.1" fill="#888">180</text>
<text x="1057.6" y="419.2" font-size="7.1" fill="#888">150</text>
<text x="1057.6" y="431.2" font-size="7.1" fill="#888">120</text>
<text x="1057.6" y="443.2" font-size="7.1" fill="#333">90</text>
<text x="1057.6" y="455.2" font-size="7.1" fill="#333">60</text>
<text x="1057.6" y="467.2" font-size="7.1" fill="#333">30</text>
<text x="1057.6" y="479.2" font-size="7.1" fill="#333">0</text>
<text x="818.6" y="332.2" font-size="18.5" font-weight="bold" fill="#000">d</text>
</g>
</svg>
</body></html>
